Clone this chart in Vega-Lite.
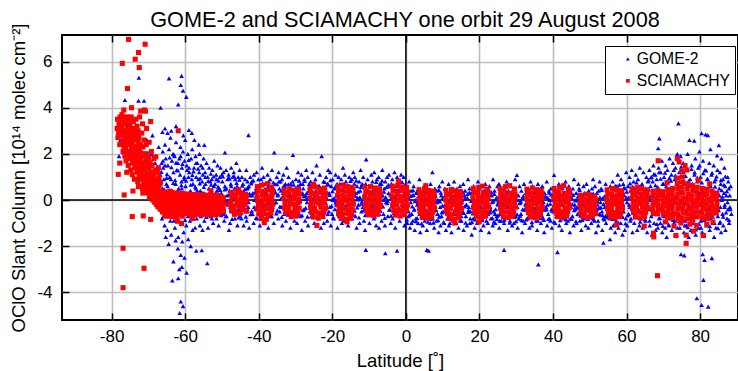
{
"$schema":"https://vega.github.io/schema/vega-lite/v6.json",
"width":676,"height":285,
"autosize":{"type":"none"},
"padding":{"left":62,"top":35,"right":0,"bottom":51},
"title":{"text":"GOME-2 and SCIAMACHY one orbit 29 August 2008","font":"Liberation Sans","fontSize":21.7,"fontWeight":"normal","color":"black","anchor":"middle","baseline":"alphabetic","offset":8,"dx":5,"dy":34},
"config":{
"font":"Liberation Sans",
"view":{"stroke":"black","strokeWidth":2},
"axis":{"labelFontSize":17,"labelColor":"black","labelFont":"Liberation Sans","titleFont":"Liberation Sans","titleFontSize":18.5,"titleFontWeight":"normal","titleColor":"black","gridColor":"#bdbdbd","gridWidth":1.6,"gridOpacity":1,"domain":false,"tickColor":"black","tickWidth":1.5,"tickSize":-7},
"legend":{"orient":"none","legendX":543,"legendY":11,"title":null,"labelFontSize":15.7,"labelFont":"Liberation Sans","labelColor":"black","strokeColor":"black","strokeWidth":1,"fillColor":"white","padding":5,"symbolOffset":10,"labelOffset":1,"rowPadding":5,"symbolSize":14,"symbolStrokeWidth":0}
},
"datasets":{
"g":[
{"x":-78.0,"y":1.9},{"x":-77.6,"y":2.6},{"x":-77.2,"y":3.3},{"x":-76.4,"y":4.33},{"x":-76.0,"y":2.2},{"x":-75.5,"y":3.0},{"x":-74.8,"y":2.5},{"x":-74.2,"y":3.4},{"x":-73.6,"y":1.8},{"x":-73.0,"y":2.9},{"x":-72.7,"y":4.3},{"x":-72.6,"y":5.3},{"x":-71.2,"y":4.3},{"x":-71.8,"y":2.1},{"x":-71.0,"y":1.5},{"x":-70.4,"y":2.6},{"x":-69.8,"y":1.2},{"x":-69.2,"y":2.0},{"x":-68.6,"y":0.9},{"x":-68.2,"y":1.6},{"x":-67.8,"y":0.6},{"x":-67.4,"y":1.3},{"x":-68.9,"y":2.8},{"x":-67.2,"y":2.3},
{"x":-66.7,"y":4.0},{"x":-64.4,"y":5.27},{"x":-61.0,"y":5.38},{"x":-61.2,"y":4.98},{"x":-60.6,"y":4.74},{"x":-59.7,"y":4.47},{"x":-61.9,"y":4.14},{"x":-59.0,"y":3.03},{"x":-60.5,"y":2.8},{"x":-62.5,"y":3.2},{"x":-63.8,"y":3.0},{"x":-58.2,"y":2.9},{"x":-65.5,"y":3.1},{"x":-64.8,"y":2.9},{"x":-57.5,"y":2.6},{"x":-56.3,"y":2.4},{"x":-66.2,"y":2.95},
{"x":-61.2,"y":-4.4},{"x":-61.5,"y":-4.9},{"x":-60.6,"y":-4.6},{"x":-63.5,"y":-3.49},{"x":-61.9,"y":-3.39},{"x":-59.6,"y":-3.15},{"x":-54.0,"y":-2.74},{"x":-63.2,"y":-2.66},{"x":-61.2,"y":-2.38},{"x":-55.5,"y":-2.18},{"x":-62.0,"y":-2.1},{"x":-60.2,"y":-2.5},{"x":-64.5,"y":-1.9},{"x":-58.5,"y":-2.0},{"x":-57.0,"y":-2.2},{"x":-60.9,"y":-2.9},{"x":-61.6,"y":-3.0},{"x":-60.8,"y":-1.8},{"x":-62.6,"y":-1.75},{"x":-59.2,"y":-1.7},{"x":-65.3,"y":-1.6},
{"x":-66.9,"y":0.2},{"x":-66.8,"y":1.1},{"x":-66.6,"y":-0.4},{"x":-66.5,"y":0.8},{"x":-66.4,"y":1.6},{"x":-66.3,"y":-0.8},{"x":-66.2,"y":0.5},{"x":-66.1,"y":2.1},
{"x":-66.0,"y":1.4},{"x":-65.9,"y":-0.2},{"x":-65.8,"y":0.9},{"x":-65.6,"y":-1.1},{"x":-65.5,"y":2.4},{"x":-65.4,"y":0.3},{"x":-65.3,"y":1.8},{"x":-65.2,"y":-0.6},{"x":-65.1,"y":0.7},
{"x":-64.9,"y":-1.3},{"x":-64.8,"y":0.6},{"x":-64.7,"y":1.5},{"x":-64.5,"y":0.1},{"x":-64.4,"y":2.2},{"x":-64.3,"y":-0.7},{"x":-64.2,"y":1.0},{"x":-64.1,"y":-0.1},{"x":-64.0,"y":2.7},
{"x":-63.9,"y":0.9},{"x":-63.8,"y":-1.5},{"x":-63.6,"y":1.7},{"x":-63.5,"y":0.4},{"x":-63.4,"y":-0.5},{"x":-63.3,"y":2.0},{"x":-63.2,"y":1.2},{"x":-63.1,"y":-0.9},{"x":-63.0,"y":0.0},
{"x":-62.9,"y":1.9},{"x":-62.8,"y":-1.2},{"x":-62.6,"y":0.7},{"x":-62.5,"y":2.5},{"x":-62.4,"y":-0.3},{"x":-62.3,"y":1.3},{"x":-62.2,"y":0.2},{"x":-62.1,"y":-0.8},{"x":-62.0,"y":1.6},
{"x":-61.9,"y":-1.6},{"x":-61.8,"y":0.5},{"x":-61.6,"y":1.8},{"x":-61.5,"y":-0.4},{"x":-61.4,"y":1.1},{"x":-61.3,"y":2.3},{"x":-61.2,"y":0.0},{"x":-61.1,"y":-1.0},{"x":-61.0,"y":0.8},
{"x":-60.9,"y":1.4},{"x":-60.8,"y":-0.6},{"x":-60.6,"y":2.1},{"x":-60.5,"y":0.3},{"x":-60.4,"y":-1.4},{"x":-60.3,"y":0.9},{"x":-60.2,"y":1.7},{"x":-60.1,"y":-0.2},{"x":-60.0,"y":2.6},
{"x":-59.9,"y":0.6},{"x":-59.7,"y":-1.1},{"x":-59.6,"y":1.5},{"x":-59.4,"y":0.1},{"x":-59.3,"y":2.0},{"x":-59.2,"y":-0.7},{"x":-59.1,"y":1.0},{"x":-59.0,"y":-0.3},
{"x":-58.9,"y":1.2},{"x":-58.7,"y":-0.9},{"x":-58.6,"y":0.4},{"x":-58.4,"y":1.8},{"x":-58.3,"y":-0.4},{"x":-58.2,"y":0.9},{"x":-58.1,"y":2.2},{"x":-58.0,"y":-1.3},
{"x":-57.9,"y":0.7},{"x":-57.7,"y":-0.5},{"x":-57.6,"y":1.4},{"x":-57.4,"y":0.0},{"x":-57.3,"y":-1.2},{"x":-57.2,"y":1.9},{"x":-57.1,"y":0.5},{"x":-57.0,"y":1.0},
{"x":-56.9,"y":-0.8},{"x":-56.7,"y":1.6},{"x":-56.6,"y":0.2},{"x":-56.4,"y":0.9},{"x":-56.3,"y":-0.3},{"x":-56.2,"y":1.2},{"x":-56.1,"y":2.0},{"x":-56.0,"y":-1.1},
{"x":-55.9,"y":0.4},{"x":-55.7,"y":1.5},{"x":-55.6,"y":-0.6},{"x":-55.4,"y":0.8},{"x":-55.3,"y":-1.3},{"x":-55.2,"y":1.1},{"x":-55.1,"y":0.1},{"x":-55.0,"y":1.8},
{"x":-54.9,"y":0.3},{"x":-54.8,"y":-0.9},{"x":-54.6,"y":1.2},{"x":-54.5,"y":0.7},{"x":-54.4,"y":-0.4},{"x":-54.2,"y":1.6},{"x":-54.1,"y":0.0},{"x":-54.8,"y":2.38},
{"x":-53.9,"y":1.0},{"x":-53.8,"y":-1.2},{"x":-53.6,"y":0.5},{"x":-53.5,"y":1.4},{"x":-53.4,"y":-0.2},{"x":-53.2,"y":0.8},{"x":-53.1,"y":-0.7},
{"x":-52.9,"y":-0.5},{"x":-52.8,"y":0.9},{"x":-52.6,"y":1.3},{"x":-52.5,"y":0.2},{"x":-52.4,"y":-1.0},{"x":-52.2,"y":0.6},{"x":-52.1,"y":1.7},
{"x":-51.9,"y":0.7},{"x":-51.8,"y":-0.3},{"x":-51.6,"y":1.1},{"x":-51.5,"y":-0.8},{"x":-51.4,"y":0.4},{"x":-51.2,"y":1.5},{"x":-51.1,"y":0.0},
{"x":-50.9,"y":-1.1},{"x":-50.8,"y":0.5},{"x":-50.6,"y":1.0},{"x":-50.5,"y":-0.1},{"x":-50.4,"y":1.4},{"x":-50.2,"y":0.3},{"x":-50.1,"y":-0.6},
{"x":-49.9,"y":0.8},{"x":-49.8,"y":-0.4},{"x":-49.6,"y":1.2},{"x":-49.5,"y":0.1},{"x":-49.4,"y":-0.9},{"x":-49.2,"y":0.6},{"x":-49.2,"y":2.06},
{"x":-48.9,"y":1.3},{"x":-48.8,"y":-0.7},{"x":-48.6,"y":0.2},{"x":-48.5,"y":0.9},{"x":-48.4,"y":-0.2},{"x":-48.2,"y":1.1},{"x":-48.1,"y":-1.3},
{"x":-47.9,"y":0.4},{"x":-47.8,"y":-1.0},{"x":-47.6,"y":0.7},{"x":-47.5,"y":1.4},{"x":-47.4,"y":-0.5},{"x":-47.2,"y":0.0},{"x":-47.1,"y":1.0},
{"x":-46.9,"y":-0.3},{"x":-46.8,"y":1.2},{"x":-46.6,"y":0.5},{"x":-46.5,"y":-0.8},{"x":-46.4,"y":0.9},{"x":-46.2,"y":0.2},{"x":-46.1,"y":1.6},
{"x":-45.9,"y":0.6},{"x":-45.8,"y":-1.1},{"x":-45.6,"y":1.0},{"x":-45.5,"y":-0.4},{"x":-45.4,"y":0.3},{"x":-45.2,"y":1.3},{"x":-45.1,"y":-0.7},
{"x":-44.9,"y":0.4},{"x":-44.7,"y":-0.8},{"x":-44.6,"y":1.0},{"x":-44.4,"y":-0.2},{"x":-44.3,"y":0.7},{"x":-44.1,"y":-1.1},
{"x":-43.9,"y":0.1},{"x":-43.7,"y":0.9},{"x":-43.6,"y":-0.5},{"x":-43.4,"y":1.3},{"x":-43.3,"y":-0.9},{"x":-43.1,"y":0.5},
{"x":-42.9,"y":-0.3},{"x":-42.7,"y":0.6},{"x":-42.6,"y":-1.2},{"x":-42.4,"y":0.2},{"x":-42.3,"y":1.0},{"x":-42.8,"y":2.81},
{"x":-41.9,"y":0.8},{"x":-41.7,"y":-0.6},{"x":-41.6,"y":0.3},{"x":-41.4,"y":-1.0},{"x":-41.3,"y":1.1},{"x":-41.1,"y":0.0},
{"x":-40.9,"y":-0.4},{"x":-40.7,"y":0.5},{"x":-40.6,"y":1.2},{"x":-40.4,"y":-0.8},{"x":-40.3,"y":0.2},{"x":-40.1,"y":0.9},
{"x":-39.9,"y":0.6},{"x":-39.7,"y":-1.1},{"x":-39.6,"y":0.0},{"x":-39.4,"y":0.9},{"x":-39.3,"y":-0.5},{"x":-39.1,"y":1.4},
{"x":-38.9,"y":-0.2},{"x":-38.7,"y":1.0},{"x":-38.6,"y":-0.9},{"x":-38.4,"y":0.4},{"x":-38.3,"y":0.7},{"x":-38.1,"y":-0.6},
{"x":-37.9,"y":0.3},{"x":-37.7,"y":-0.4},{"x":-37.6,"y":1.1},{"x":-37.4,"y":-1.2},{"x":-37.3,"y":0.8},{"x":-37.1,"y":0.1},
{"x":-36.9,"y":0.9},{"x":-36.7,"y":-0.7},{"x":-36.6,"y":0.2},{"x":-36.4,"y":1.3},{"x":-36.3,"y":-0.3},{"x":-36.1,"y":0.5},
{"x":-35.9,"y":-1.0},{"x":-35.7,"y":0.4},{"x":-35.6,"y":0.7},{"x":-35.8,"y":2.06},{"x":-35.3,"y":-0.1},{"x":-35.1,"y":1.0},
{"x":-34.9,"y":0.2},{"x":-34.7,"y":-0.8},{"x":-34.6,"y":1.2},{"x":-34.4,"y":0.5},{"x":-34.3,"y":-0.5},{"x":-34.1,"y":0.8},
{"x":-33.9,"y":-0.3},{"x":-33.7,"y":0.9},{"x":-33.6,"y":-1.1},{"x":-33.4,"y":0.3},{"x":-33.3,"y":1.1},{"x":-33.1,"y":-0.6},
{"x":-32.9,"y":0.6},{"x":-32.7,"y":0.0},{"x":-32.6,"y":-0.9},{"x":-32.4,"y":1.4},{"x":-32.3,"y":-0.4},{"x":-32.1,"y":0.4},
{"x":-31.9,"y":1.0},{"x":-31.7,"y":-0.6},{"x":-31.6,"y":0.2},{"x":-31.4,"y":-1.2},{"x":-31.3,"y":0.7},{"x":-31.1,"y":0.1},
{"x":-30.9,"y":-0.5},{"x":-30.8,"y":0.8},{"x":-30.7,"y":1.95},{"x":-30.4,"y":0.3},{"x":-30.3,"y":-0.9},{"x":-30.1,"y":0.5},
{"x":-29.9,"y":0.9},{"x":-29.7,"y":-0.2},{"x":-29.6,"y":-1.0},{"x":-29.4,"y":0.6},{"x":-29.3,"y":1.2},{"x":-29.1,"y":-0.6},
{"x":-28.9,"y":0.0},{"x":-28.7,"y":0.7},{"x":-28.6,"y":-0.7},{"x":-28.4,"y":1.1},{"x":-28.3,"y":-1.3},{"x":-28.1,"y":0.3},
{"x":-27.9,"y":0.5},{"x":-27.7,"y":-0.4},{"x":-27.6,"y":0.9},{"x":-27.4,"y":-0.9},{"x":-27.3,"y":0.2},{"x":-27.1,"y":1.3},
{"x":-26.9,"y":-0.1},{"x":-26.7,"y":1.0},{"x":-26.6,"y":-1.1},{"x":-26.4,"y":0.4},{"x":-26.3,"y":0.7},{"x":-26.1,"y":-0.5},
{"x":-25.9,"y":0.8},{"x":-25.7,"y":-0.7},{"x":-25.6,"y":0.1},{"x":-25.4,"y":1.2},{"x":-25.3,"y":-0.3},{"x":-25.1,"y":0.6},
{"x":-24.9,"y":-1.0},{"x":-24.7,"y":0.3},{"x":-24.6,"y":0.9},{"x":-24.4,"y":-0.5},{"x":-24.3,"y":1.5},{"x":-24.1,"y":0.0},
{"x":-23.9,"y":0.6},{"x":-23.7,"y":-0.8},{"x":-23.6,"y":0.4},{"x":-23.4,"y":1.1},{"x":-23.3,"y":-0.2},{"x":-23.1,"y":-1.2},
{"x":-22.9,"y":1.9},{"x":-22.7,"y":0.2},{"x":-22.6,"y":-0.6},{"x":-22.4,"y":0.8},{"x":-22.3,"y":-1.0},{"x":-22.1,"y":0.5},
{"x":-21.9,"y":-0.4},{"x":-21.7,"y":1.0},{"x":-21.6,"y":0.1},{"x":-21.4,"y":-0.9},{"x":-21.3,"y":0.7},{"x":-21.1,"y":1.3},
{"x":-20.9,"y":0.3},{"x":-20.7,"y":-0.3},{"x":-20.6,"y":1.2},{"x":-20.4,"y":-1.1},{"x":-20.3,"y":0.6},{"x":-20.1,"y":-0.6},
{"x":-19.9,"y":0.9},{"x":-19.7,"y":0.0},{"x":-19.6,"y":-0.8},{"x":-19.4,"y":0.5},{"x":-19.3,"y":-0.4},{"x":-19.1,"y":1.1},
{"x":-18.9,"y":-0.2},{"x":-18.7,"y":0.7},{"x":-18.6,"y":-1.2},{"x":-18.4,"y":0.3},{"x":-18.3,"y":1.0},{"x":-18.1,"y":-0.7},
{"x":-17.9,"y":0.5},{"x":-17.7,"y":-0.5},{"x":-17.6,"y":0.9},{"x":-17.4,"y":-1.0},{"x":-17.3,"y":0.2},{"x":-17.1,"y":1.4},
{"x":-16.9,"y":-0.9},{"x":-16.7,"y":0.4},{"x":-16.6,"y":1.1},{"x":-16.4,"y":-0.3},{"x":-16.3,"y":0.8},{"x":-16.1,"y":0.0},
{"x":-15.9,"y":0.6},{"x":-15.7,"y":-1.1},{"x":-15.6,"y":0.2},{"x":-15.4,"y":1.0},{"x":-15.3,"y":-0.6},{"x":-15.1,"y":0.3},
{"x":-14.9,"y":-0.4},{"x":-14.7,"y":0.9},{"x":-14.6,"y":-0.8},{"x":-14.4,"y":0.5},{"x":-14.3,"y":1.2},{"x":-14.1,"y":-0.1},
{"x":-13.9,"y":1.0},{"x":-13.7,"y":-0.7},{"x":-13.6,"y":0.3},{"x":-13.4,"y":-1.2},{"x":-13.3,"y":0.6},{"x":-13.1,"y":0.1},
{"x":-12.9,"y":-0.2},{"x":-12.7,"y":0.8},{"x":-12.6,"y":-1.0},{"x":-12.4,"y":0.4},{"x":-12.3,"y":1.3},{"x":-12.1,"y":-0.5},
{"x":-11.9,"y":0.7},{"x":-11.7,"y":-0.3},{"x":-11.6,"y":1.0},{"x":-11.4,"y":-0.9},{"x":-11.3,"y":0.2},{"x":-11.1,"y":-1.3},
{"x":-10.8,"y":1.76},{"x":-10.7,"y":0.0},{"x":-10.6,"y":-0.6},{"x":-10.4,"y":0.9},{"x":-10.9,"y":-2.16},{"x":-10.1,"y":0.4},
{"x":-9.9,"y":-1.0},{"x":-9.7,"y":0.6},{"x":-9.6,"y":0.1},{"x":-9.4,"y":1.1},{"x":-9.3,"y":-0.4},{"x":-9.1,"y":0.8},
{"x":-8.9,"y":0.3},{"x":-8.7,"y":-0.8},{"x":-8.6,"y":1.2},{"x":-8.4,"y":-0.2},{"x":-8.3,"y":0.5},{"x":-8.1,"y":-1.1},
{"x":-7.9,"y":0.9},{"x":-7.7,"y":-0.5},{"x":-7.6,"y":0.0},{"x":-7.4,"y":1.0},{"x":-7.3,"y":-1.2},{"x":-7.1,"y":0.4},
{"x":-6.9,"y":-0.3},{"x":-6.7,"y":0.7},{"x":-6.6,"y":-0.9},{"x":-6.4,"y":1.3},{"x":-6.3,"y":0.2},{"x":-6.1,"y":-0.6},
{"x":-5.9,"y":0.5},{"x":-5.7,"y":-1.1},{"x":-5.6,"y":0.8},{"x":-5.4,"y":-0.1},{"x":-5.6,"y":-2.31},{"x":-5.1,"y":1.0},
{"x":-4.9,"y":-0.7},{"x":-4.7,"y":0.3},{"x":-4.6,"y":1.1},{"x":-4.4,"y":-0.4},{"x":-4.3,"y":0.6},{"x":-4.1,"y":-1.0},
{"x":-3.9,"y":0.1},{"x":-3.7,"y":0.9},{"x":-3.6,"y":-0.8},{"x":-3.4,"y":0.4},{"x":-3.3,"y":-0.3},{"x":-3.1,"y":1.2},
{"x":-2.9,"y":-1.2},{"x":-2.7,"y":0.6},{"x":-2.6,"y":0.0},{"x":-2.4,"y":1.0},{"x":-2.3,"y":-0.5},{"x":-2.1,"y":0.3},
{"x":-1.9,"y":0.8},{"x":-1.7,"y":-0.9},{"x":-2.4,"y":-2.2},{"x":-1.4,"y":0.4},{"x":-1.3,"y":1.1},{"x":-1.1,"y":-0.2},
{"x":-0.9,"y":-0.6},{"x":-0.7,"y":0.2},{"x":-0.6,"y":1.0},{"x":-0.4,"y":-1.1},{"x":-0.3,"y":0.5},{"x":-0.1,"y":0.7},
{"x":0.1,"y":-0.3},{"x":0.3,"y":0.5},{"x":0.4,"y":-1.0},{"x":0.6,"y":0.1},{"x":0.7,"y":-0.7},{"x":0.9,"y":0.8},
{"x":1.1,"y":-1.2},{"x":1.3,"y":-0.1},{"x":1.4,"y":0.4},{"x":1.6,"y":-0.6},{"x":1.7,"y":0.2},{"x":1.9,"y":-0.9},
{"x":2.1,"y":0.6},{"x":2.3,"y":-0.4},{"x":2.4,"y":-1.3},{"x":2.6,"y":0.0},{"x":2.7,"y":-0.8},{"x":2.9,"y":0.3},
{"x":3.1,"y":-0.2},{"x":3.3,"y":-1.0},{"x":3.4,"y":0.5},{"x":3.6,"y":-0.5},{"x":3.7,"y":0.9},{"x":3.9,"y":-1.4},
{"x":4.1,"y":0.2},{"x":4.3,"y":-0.7},{"x":4.4,"y":-0.1},{"x":4.6,"y":-1.1},{"x":4.7,"y":0.4},{"x":4.9,"y":-0.3},
{"x":5.1,"y":-0.9},{"x":5.3,"y":0.6},{"x":5.4,"y":-0.4},{"x":5.6,"y":0.1},{"x":5.7,"y":-1.3},{"x":5.7,"y":-2.16},
{"x":6.1,"y":0.3},{"x":6.3,"y":-0.6},{"x":6.2,"y":-2.2},{"x":6.6,"y":-1.0},{"x":6.7,"y":0.7},{"x":6.9,"y":-0.2},
{"x":7.2,"y":1.2},{"x":7.3,"y":-0.8},{"x":7.4,"y":0.2},{"x":7.6,"y":-0.4},{"x":7.7,"y":-1.2},{"x":7.9,"y":0.5},
{"x":8.1,"y":-0.1},{"x":8.3,"y":-0.9},{"x":8.4,"y":0.4},{"x":8.6,"y":-0.6},{"x":8.7,"y":0.0},{"x":8.9,"y":-1.4},
{"x":9.1,"y":0.6},{"x":9.3,"y":-0.3},{"x":9.4,"y":-1.1},{"x":9.6,"y":0.2},{"x":9.7,"y":-0.7},{"x":9.9,"y":0.8},
{"x":10.1,"y":-0.5},{"x":10.3,"y":0.1},{"x":10.4,"y":-1.0},{"x":10.6,"y":0.5},{"x":10.7,"y":-0.2},{"x":10.9,"y":-1.3},
{"x":11.1,"y":0.3},{"x":11.3,"y":-0.8},{"x":11.4,"y":-0.3},{"x":11.6,"y":0.7},{"x":11.7,"y":-1.1},{"x":11.9,"y":0.0},
{"x":12.1,"y":-0.6},{"x":12.3,"y":0.4},{"x":12.4,"y":-1.4},{"x":12.6,"y":-0.1},{"x":12.7,"y":0.2},{"x":12.9,"y":-0.9},
{"x":13.1,"y":0.8},{"x":13.3,"y":-0.4},{"x":13.4,"y":0.1},{"x":13.6,"y":-1.0},{"x":13.7,"y":-0.6},{"x":13.9,"y":0.5},
{"x":14.1,"y":-0.2},{"x":14.3,"y":-1.2},{"x":14.4,"y":0.3},{"x":14.6,"y":-0.7},{"x":14.7,"y":0.6},{"x":14.9,"y":-0.1},
{"x":15.1,"y":-0.9},{"x":15.3,"y":0.0},{"x":15.4,"y":-0.5},{"x":15.6,"y":0.7},{"x":15.7,"y":-1.3},{"x":15.9,"y":0.2},
{"x":16.1,"y":0.4},{"x":16.3,"y":-0.7},{"x":16.4,"y":-0.2},{"x":16.6,"y":-1.1},{"x":16.7,"y":0.1},{"x":16.9,"y":0.9},
{"x":17.1,"y":-0.3},{"x":17.3,"y":0.5},{"x":17.4,"y":-1.0},{"x":17.6,"y":-0.5},{"x":17.7,"y":0.3},{"x":17.9,"y":-1.5},
{"x":18.1,"y":0.1},{"x":18.3,"y":-0.8},{"x":18.4,"y":0.6},{"x":18.6,"y":-0.2},{"x":18.7,"y":-1.2},{"x":18.9,"y":-0.4},
{"x":19.1,"y":-0.6},{"x":19.3,"y":0.3},{"x":19.4,"y":-1.0},{"x":19.6,"y":0.8},{"x":19.7,"y":-0.1},{"x":19.9,"y":-0.7},
{"x":20.1,"y":0.5},{"x":20.3,"y":-0.3},{"x":20.4,"y":-1.3},{"x":20.6,"y":0.0},{"x":20.7,"y":-0.8},{"x":20.9,"y":0.2},
{"x":21.1,"y":-1.1},{"x":21.3,"y":0.4},{"x":21.4,"y":-0.5},{"x":21.6,"y":0.7},{"x":21.7,"y":-0.2},{"x":21.9,"y":-0.9},
{"x":22.1,"y":0.0},{"x":22.3,"y":-0.6},{"x":22.4,"y":0.3},{"x":22.6,"y":-1.4},{"x":22.7,"y":0.6},{"x":22.9,"y":-0.3},
{"x":23.1,"y":-0.8},{"x":23.3,"y":0.2},{"x":23.4,"y":-0.1},{"x":23.6,"y":-1.1},{"x":23.7,"y":0.9},{"x":23.9,"y":-0.5},
{"x":24.1,"y":0.4},{"x":24.3,"y":-1.0},{"x":24.4,"y":-0.4},{"x":24.6,"y":0.1},{"x":24.7,"y":-0.7},{"x":24.9,"y":0.6},
{"x":25.1,"y":-0.2},{"x":25.3,"y":0.7},{"x":25.4,"y":-1.2},{"x":25.6,"y":-0.6},{"x":25.7,"y":0.3},{"x":25.9,"y":-0.9},
{"x":26.1,"y":0.2},{"x":26.3,"y":-0.5},{"x":26.7,"y":-2.16},{"x":26.6,"y":0.5},{"x":26.7,"y":-1.0},{"x":26.9,"y":-0.1},
{"x":27.1,"y":-0.7},{"x":27.3,"y":0.1},{"x":27.4,"y":0.8},{"x":27.6,"y":-0.3},{"x":27.7,"y":-1.3},{"x":27.9,"y":0.4},
{"x":28.1,"y":0.6},{"x":28.3,"y":-0.9},{"x":28.4,"y":-0.2},{"x":28.6,"y":0.3},{"x":28.7,"y":-0.6},{"x":28.9,"y":-1.1},
{"x":29.1,"y":-0.4},{"x":29.3,"y":0.5},{"x":29.4,"y":-1.0},{"x":29.6,"y":0.0},{"x":29.7,"y":0.9},{"x":29.9,"y":-0.7},
{"x":30.2,"y":1.08},{"x":30.3,"y":-0.3},{"x":30.4,"y":-1.2},{"x":30.6,"y":0.2},{"x":30.7,"y":-0.8},{"x":30.9,"y":0.6},
{"x":31.1,"y":-0.1},{"x":31.3,"y":-0.6},{"x":31.4,"y":0.4},{"x":31.6,"y":-1.4},{"x":31.7,"y":0.1},{"x":31.9,"y":-0.9},
{"x":32.1,"y":0.7},{"x":32.3,"y":-0.4},{"x":32.4,"y":-1.0},{"x":32.6,"y":0.3},{"x":32.7,"y":-0.2},{"x":32.9,"y":0.0},
{"x":33.1,"y":-0.8},{"x":33.3,"y":0.5},{"x":33.4,"y":-0.5},{"x":33.6,"y":-1.2},{"x":33.7,"y":0.2},{"x":33.9,"y":0.8},
{"x":34.1,"y":0.1},{"x":34.3,"y":-1.1},{"x":34.4,"y":0.6},{"x":34.6,"y":-0.3},{"x":34.7,"y":-0.7},{"x":34.9,"y":0.3},
{"x":35.1,"y":-0.5},{"x":35.3,"y":0.4},{"x":35.4,"y":-0.9},{"x":35.6,"y":0.0},{"x":35.7,"y":-1.3},{"x":35.9,"y":0.7},
{"x":36.0,"y":-2.79},{"x":36.3,"y":0.2},{"x":36.4,"y":-0.6},{"x":36.6,"y":0.5},{"x":36.7,"y":-1.0},{"x":36.9,"y":-0.2},
{"x":37.1,"y":0.6},{"x":37.3,"y":-0.8},{"x":37.4,"y":-0.1},{"x":37.6,"y":-1.4},{"x":37.7,"y":0.3},{"x":37.9,"y":-0.4},
{"x":38.1,"y":-0.3},{"x":38.3,"y":0.8},{"x":38.4,"y":-1.1},{"x":38.6,"y":0.1},{"x":38.7,"y":-0.6},{"x":38.9,"y":0.4},
{"x":39.1,"y":0.0},{"x":39.3,"y":-0.9},{"x":39.4,"y":0.5},{"x":39.6,"y":-0.4},{"x":39.7,"y":-1.2},{"x":39.9,"y":0.2},
{"x":40.3,"y":1.08},{"x":40.2,"y":-0.5},{"x":40.4,"y":0.3},{"x":40.6,"y":-1.0},{"x":40.7,"y":-0.1},{"x":40.9,"y":-0.7},
{"x":41.1,"y":0.4},{"x":41.2,"y":-2.26},{"x":41.4,"y":-0.3},{"x":41.6,"y":0.7},{"x":41.7,"y":-1.1},{"x":41.9,"y":0.0},
{"x":42.1,"y":-0.6},{"x":42.3,"y":0.2},{"x":42.4,"y":-1.3},{"x":42.6,"y":0.5},{"x":42.7,"y":-0.2},{"x":42.9,"y":-0.8},
{"x":43.1,"y":0.3},{"x":43.3,"y":-0.4},{"x":43.4,"y":0.8},{"x":43.6,"y":-1.0},{"x":43.7,"y":0.1},{"x":43.9,"y":-0.6},
{"x":44.1,"y":-0.9},{"x":44.3,"y":0.6},{"x":44.4,"y":-0.1},{"x":44.6,"y":-1.4},{"x":44.7,"y":0.4},{"x":44.9,"y":-0.3},
{"x":45.1,"y":0.1},{"x":45.3,"y":-0.7},{"x":45.4,"y":0.5},{"x":45.6,"y":-1.1},{"x":45.7,"y":0.9},{"x":45.9,"y":-0.2},
{"x":46.1,"y":-0.4},{"x":46.3,"y":0.3},{"x":46.4,"y":-1.0},{"x":46.6,"y":0.0},{"x":46.7,"y":-0.6},{"x":46.9,"y":0.7},
{"x":47.1,"y":0.5},{"x":47.3,"y":-0.9},{"x":47.4,"y":-0.3},{"x":47.6,"y":0.2},{"x":47.7,"y":-1.3},{"x":47.9,"y":-0.1},
{"x":48.1,"y":-0.2},{"x":48.3,"y":0.6},{"x":48.4,"y":-0.8},{"x":48.6,"y":0.3},{"x":48.7,"y":-0.5},{"x":48.9,"y":-1.1},
{"x":49.1,"y":0.7},{"x":49.3,"y":-0.4},{"x":49.4,"y":0.0},{"x":49.6,"y":-1.2},{"x":49.7,"y":0.4},{"x":49.9,"y":-0.7},
{"x":50.1,"y":-0.6},{"x":50.3,"y":0.2},{"x":50.4,"y":-1.0},{"x":50.6,"y":0.5},{"x":50.7,"y":-0.3},{"x":50.9,"y":0.9},
{"x":51.1,"y":0.1},{"x":51.3,"y":-0.9},{"x":51.4,"y":0.6},{"x":51.6,"y":-0.4},{"x":51.7,"y":-1.4},{"x":51.9,"y":0.3},
{"x":52.1,"y":-0.2},{"x":52.3,"y":-1.1},{"x":52.4,"y":0.4},{"x":52.6,"y":-0.6},{"x":52.7,"y":0.8},{"x":52.9,"y":-0.1},
{"x":53.1,"y":0.5},{"x":53.3,"y":-0.5},{"x":53.4,"y":-1.3},{"x":53.6,"y":0.1},{"x":53.7,"y":-0.8},{"x":53.7,"y":-1.85},
{"x":54.1,"y":-0.3},{"x":54.3,"y":0.7},{"x":54.4,"y":-1.0},{"x":54.6,"y":0.2},{"x":54.7,"y":-0.6},{"x":54.9,"y":0.4},
{"x":55.5,"y":-1.7},{"x":55.3,"y":0.0},{"x":55.4,"y":-0.7},{"x":55.6,"y":0.6},{"x":55.7,"y":-1.2},{"x":55.9,"y":0.3},
{"x":56.1,"y":-0.4},{"x":56.2,"y":0.8},{"x":56.4,"y":-1.1},{"x":56.5,"y":0.2},{"x":56.6,"y":-0.7},{"x":56.8,"y":0.5},{"x":56.9,"y":-1.4},
{"x":57.1,"y":0.1},{"x":57.2,"y":-0.9},{"x":57.4,"y":0.6},{"x":57.5,"y":-0.3},{"x":57.6,"y":1.1},{"x":57.8,"y":-1.2},{"x":57.9,"y":0.3},
{"x":58.1,"y":-0.6},{"x":58.2,"y":0.4},{"x":58.4,"y":-1.0},{"x":58.5,"y":0.9},{"x":58.6,"y":-0.2},{"x":58.8,"y":0.0},{"x":58.9,"y":-1.5},
{"x":59.1,"y":0.7},{"x":59.2,"y":-0.5},{"x":59.4,"y":0.2},{"x":59.5,"y":-1.3},{"x":59.6,"y":0.5},{"x":59.8,"y":-0.8},{"x":59.9,"y":1.2},
{"x":60.1,"y":-0.1},{"x":60.2,"y":-1.1},{"x":60.4,"y":0.6},{"x":60.5,"y":0.1},{"x":60.6,"y":-0.6},{"x":60.8,"y":1.0},{"x":60.9,"y":-0.3},
{"x":61.1,"y":0.4},{"x":61.2,"y":-0.8},{"x":61.4,"y":1.3},{"x":61.5,"y":-0.4},{"x":61.6,"y":-1.4},{"x":61.8,"y":0.2},{"x":61.9,"y":0.8},
{"x":62.1,"y":-1.0},{"x":62.2,"y":0.5},{"x":62.4,"y":-0.2},{"x":62.5,"y":1.1},{"x":62.6,"y":-0.7},{"x":62.8,"y":0.0},{"x":62.9,"y":-1.3},
{"x":63.1,"y":0.9},{"x":63.2,"y":-0.5},{"x":63.4,"y":0.3},{"x":63.5,"y":-1.1},{"x":63.6,"y":1.4},{"x":63.8,"y":-0.1},{"x":63.9,"y":-0.8},
{"x":64.1,"y":-0.3},{"x":64.2,"y":0.7},{"x":64.4,"y":-1.2},{"x":64.5,"y":0.1},{"x":64.6,"y":1.2},{"x":64.8,"y":-0.6},{"x":64.9,"y":0.4},
{"x":65.1,"y":0.5},{"x":65.2,"y":-0.9},{"x":65.4,"y":1.0},{"x":65.5,"y":-0.2},{"x":65.6,"y":-1.4},{"x":65.8,"y":0.8},{"x":65.9,"y":0.2},
{"x":66.1,"y":-0.4},{"x":66.2,"y":1.3},{"x":66.3,"y":-1.1},{"x":66.5,"y":0.6},{"x":66.6,"y":0.0},{"x":66.7,"y":-0.7},{"x":66.8,"y":1.0},{"x":66.9,"y":-1.5},
{"x":67.1,"y":0.8},{"x":67.2,"y":-0.2},{"x":67.3,"y":1.5},{"x":67.5,"y":-1.0},{"x":67.6,"y":0.3},{"x":67.7,"y":-0.6},{"x":67.8,"y":1.1},{"x":67.9,"y":-1.3},
{"x":68.1,"y":-0.5},{"x":68.2,"y":0.9},{"x":68.6,"y":2.24},{"x":68.5,"y":-1.2},{"x":68.3,"y":0.2},{"x":68.7,"y":1.4},{"x":68.8,"y":-0.8},{"x":68.9,"y":2.67},
{"x":69.1,"y":0.4},{"x":69.2,"y":-1.0},{"x":69.3,"y":1.2},{"x":69.5,"y":-0.3},{"x":69.6,"y":1.7},{"x":69.7,"y":-1.4},{"x":69.8,"y":0.7},{"x":69.9,"y":0.0},
{"x":70.1,"y":-0.7},{"x":70.2,"y":1.0},{"x":70.3,"y":0.2},{"x":70.5,"y":-1.2},{"x":70.6,"y":1.5},{"x":70.7,"y":-0.1},{"x":70.8,"y":0.6},{"x":70.9,"y":-1.6},
{"x":71.1,"y":1.3},{"x":71.2,"y":-0.4},{"x":71.3,"y":0.8},{"x":71.5,"y":-1.1},{"x":71.6,"y":0.1},{"x":71.7,"y":1.8},{"x":71.8,"y":-0.8},{"x":71.9,"y":0.4},
{"x":72.1,"y":-0.2},{"x":72.2,"y":1.1},{"x":72.3,"y":-1.3},{"x":72.5,"y":0.5},{"x":72.6,"y":1.6},{"x":72.7,"y":-0.6},{"x":72.8,"y":0.0},{"x":72.9,"y":-1.0},
{"x":73.1,"y":0.9},{"x":73.2,"y":-0.9},{"x":73.3,"y":1.4},{"x":73.5,"y":0.2},{"x":73.6,"y":-1.5},{"x":73.7,"y":0.7},{"x":73.8,"y":1.99},{"x":73.9,"y":-0.3},
{"x":74.1,"y":3.32},{"x":74.2,"y":-0.6},{"x":74.3,"y":1.2},{"x":74.5,"y":-1.2},{"x":74.6,"y":0.4},{"x":74.7,"y":1.9},{"x":74.8,"y":-2.35},{"x":74.9,"y":0.0},
{"x":75.1,"y":1.0},{"x":75.2,"y":-0.4},{"x":75.7,"y":-2.4},{"x":75.5,"y":0.7},{"x":75.6,"y":-1.4},{"x":75.4,"y":1.6},{"x":75.8,"y":0.1},{"x":75.9,"y":-0.9},
{"x":76.1,"y":-0.1},{"x":76.2,"y":1.3},{"x":76.3,"y":-1.1},{"x":76.5,"y":0.6},{"x":76.6,"y":2.0},{"x":76.7,"y":-0.6},{"x":76.8,"y":0.3},{"x":76.9,"y":-1.6},
{"x":77.1,"y":2.6},{"x":77.2,"y":-0.8},{"x":77.3,"y":0.9},{"x":77.5,"y":-1.3},{"x":77.6,"y":0.2},{"x":77.7,"y":1.5},{"x":77.8,"y":-0.3},{"x":77.9,"y":0.7},
{"x":78.4,"y":2.57},{"x":78.2,"y":-1.0},{"x":78.3,"y":0.4},{"x":78.5,"y":1.2},{"x":78.6,"y":-0.5},{"x":78.7,"y":1.8},{"x":78.8,"y":-1.5},{"x":78.9,"y":0.0},
{"x":79.1,"y":-4.26},{"x":79.2,"y":0.8},{"x":79.3,"y":-0.7},{"x":79.5,"y":1.4},{"x":79.6,"y":-1.2},{"x":79.7,"y":0.3},{"x":79.8,"y":2.1},{"x":79.9,"y":-0.2},
{"x":80.4,"y":2.89},{"x":80.4,"y":-4.55},{"x":80.7,"y":-2.35},{"x":80.1,"y":1.0},{"x":80.2,"y":-0.9},{"x":80.5,"y":0.5},{"x":80.6,"y":-1.4},{"x":80.8,"y":1.7},
{"x":81.5,"y":2.84},{"x":81.2,"y":-2.6},{"x":80.9,"y":-3.46},{"x":81.1,"y":0.2},{"x":81.3,"y":1.3},{"x":81.6,"y":-0.6},{"x":81.7,"y":-1.1},{"x":81.9,"y":0.9},
{"x":82.1,"y":2.81},{"x":82.2,"y":-4.62},{"x":82.3,"y":-0.4},{"x":82.5,"y":1.6},{"x":82.6,"y":-1.3},{"x":82.7,"y":0.6},{"x":82.8,"y":2.2},{"x":82.9,"y":-0.8},
{"x":83.2,"y":-2.52},{"x":83.1,"y":1.1},{"x":83.3,"y":-0.2},{"x":83.5,"y":-1.0},{"x":83.6,"y":0.4},{"x":83.7,"y":1.5},{"x":83.8,"y":-1.6},{"x":83.9,"y":0.8},
{"x":84.6,"y":1.93},{"x":84.1,"y":-0.5},{"x":84.2,"y":0.9},{"x":84.3,"y":-1.2},{"x":84.5,"y":0.1},{"x":84.7,"y":1.3},{"x":84.8,"y":-0.7},{"x":85.1,"y":2.37},
{"x":85.2,"y":0.5},{"x":85.3,"y":-1.0},{"x":85.4,"y":1.2},{"x":85.5,"y":-0.3},{"x":85.6,"y":0.7},{"x":85.7,"y":-1.4},{"x":85.8,"y":1.8},{"x":85.9,"y":0.0},
{"x":86.1,"y":-0.6},{"x":86.2,"y":0.9},{"x":86.3,"y":-1.1},{"x":86.5,"y":0.3},{"x":86.6,"y":1.4},{"x":86.7,"y":-0.2},{"x":86.8,"y":0.6},{"x":86.9,"y":-1.3},
{"x":87.1,"y":0.2},{"x":87.3,"y":-0.8},{"x":87.5,"y":1.0},{"x":87.6,"y":-0.4},{"x":87.8,"y":0.5},{"x":87.9,"y":-1.0},
{"x":88.1,"y":-0.3},{"x":88.3,"y":0.6},{"x":88.5,"y":-0.6},
{"x":-66.95,"y":0.62},{"x":-66.75,"y":-0.3},{"x":-66.5,"y":1.22},{"x":-66.25,"y":0.14},{"x":-66.05,"y":1.7},
{"x":-65.95,"y":-0.7},{"x":-65.75,"y":0.46},{"x":-65.5,"y":1.5},{"x":-65.25,"y":-0.12},{"x":-65.05,"y":0.96},
{"x":-64.95,"y":1.12},{"x":-64.75,"y":-0.44},{"x":-64.5,"y":0.3},{"x":-64.25,"y":1.84},{"x":-64.05,"y":-0.9},
{"x":-63.95,"y":0.2},{"x":-63.75,"y":1.42},{"x":-63.5,"y":-0.62},{"x":-63.25,"y":0.74},{"x":-63.05,"y":1.96},
{"x":-62.95,"y":-0.2},{"x":-62.75,"y":0.86},{"x":-62.5,"y":1.62},{"x":-62.25,"y":-0.84},{"x":-62.05,"y":0.4},
{"x":-61.95,"y":1.28},{"x":-61.75,"y":0.02},{"x":-61.5,"y":-0.56},{"x":-61.25,"y":1.9},{"x":-61.05,"y":0.64},
{"x":-60.95,"y":0.5},{"x":-60.75,"y":1.56},{"x":-60.5,"y":-0.36},{"x":-60.25,"y":1.0},{"x":-60.05,"y":-0.86},
{"x":-59.95,"y":-0.5},{"x":-59.75,"y":0.84},{"x":-59.5,"y":1.3},{"x":-59.25,"y":0.16},{"x":-59.05,"y":1.74},
{"x":-58.95,"y":1.4},{"x":-58.75,"y":-0.16},{"x":-58.5,"y":0.66},{"x":-58.25,"y":-0.78},{"x":-58.05,"y":1.08},
{"x":-57.95,"y":0.26},{"x":-57.75,"y":1.24},{"x":-57.5,"y":-0.66},{"x":-57.25,"y":0.58},{"x":-57.05,"y":1.6},
{"x":-56.95,"y":-0.46},{"x":-56.75,"y":0.4},{"x":-56.5,"y":1.36},{"x":-56.25,"y":-0.04},{"x":-56.05,"y":0.72},
{"x":-55.95,"y":0.94},{"x":-55.75,"y":-0.7},{"x":-55.5,"y":0.32},{"x":-55.25,"y":1.4},{"x":-55.05,"y":-0.18},
{"x":-54.95,"y":0.56},{"x":-54.75,"y":-0.36},{"x":-54.5,"y":1.0},{"x":-54.25,"y":-0.74},{"x":-54.05,"y":0.22},
{"x":-53.95,"y":-0.12},{"x":-53.75,"y":0.82},{"x":-53.5,"y":-0.52},{"x":-53.25,"y":0.34},{"x":-53.05,"y":1.14},
{"x":-52.95,"y":0.66},{"x":-52.75,"y":-0.8},{"x":-52.5,"y":0.14},{"x":-52.25,"y":1.02},{"x":-52.05,"y":-0.28},
{"x":-51.95,"y":-0.46},{"x":-51.75,"y":0.28},{"x":-51.5,"y":0.9},{"x":-51.25,"y":-0.04},{"x":-51.05,"y":0.58},
{"x":-50.95,"y":0.84},{"x":-50.75,"y":-0.22},{"x":-50.5,"y":0.44},{"x":-50.25,"y":-0.66},{"x":-50.05,"y":1.1},
{"x":-49.95,"y":0.06},{"x":-49.75,"y":1.02},{"x":-49.5,"y":-0.6},{"x":-49.25,"y":0.46},{"x":-49.05,"y":-0.14},
{"x":-48.95,"y":-0.7},{"x":-48.75,"y":0.5},{"x":-48.5,"y":-0.04},{"x":-48.25,"y":0.96},{"x":-48.05,"y":0.24},
{"x":-47.95,"y":0.92},{"x":-47.75,"y":-0.3},{"x":-47.5,"y":0.6},{"x":-47.25,"y":-0.82},{"x":-47.05,"y":0.16},
{"x":-46.95,"y":0.3},{"x":-46.75,"y":1.04},{"x":-46.5,"y":-0.56},{"x":-46.25,"y":0.06},{"x":-46.05,"y":0.74},
{"x":-45.95,"y":-0.2},{"x":-45.75,"y":0.52},{"x":-45.5,"y":-0.76},{"x":-45.25,"y":0.88},{"x":-45.05,"y":0.1},
{"x":-44.95,"y":0.15},{"x":-44.75,"y":-0.55},{"x":-44.5,"y":0.62},{"x":-44.25,"y":-0.2},{"x":-44.05,"y":0.38},
{"x":-43.95,"y":-0.35},{"x":-43.75,"y":0.48},{"x":-43.5,"y":-0.72},{"x":-43.25,"y":0.05},{"x":-43.05,"y":0.8},
{"x":-42.95,"y":0.55},{"x":-42.75,"y":-0.1},{"x":-42.5,"y":0.28},{"x":-42.25,"y":-0.62},{"x":-42.05,"y":0.72},
{"x":-41.95,"y":-0.48},{"x":-41.75,"y":0.2},{"x":-41.5,"y":0.85},{"x":-41.25,"y":-0.3},{"x":-41.05,"y":0.0},
{"x":-40.95,"y":0.35},{"x":-40.75,"y":-0.78},{"x":-40.5,"y":0.1},{"x":-40.25,"y":0.58},{"x":-40.05,"y":-0.15},
{"x":-39.95,"y":-0.05},{"x":-39.75,"y":0.66},{"x":-39.5,"y":-0.42},{"x":-39.25,"y":0.25},{"x":-39.05,"y":-0.68},
{"x":-38.95,"y":0.72},{"x":-38.75,"y":-0.25},{"x":-38.5,"y":0.44},{"x":-38.25,"y":-0.55},{"x":-38.05,"y":0.12},
{"x":-37.95,"y":0.18},{"x":-37.75,"y":-0.6},{"x":-37.5,"y":0.58},{"x":-37.25,"y":-0.15},{"x":-37.05,"y":0.42},
{"x":-36.95,"y":-0.3},{"x":-36.75,"y":0.52},{"x":-36.5,"y":-0.7},{"x":-36.25,"y":0.08},{"x":-36.05,"y":0.76},
{"x":-35.95,"y":0.5},{"x":-35.75,"y":-0.12},{"x":-35.5,"y":0.32},{"x":-35.25,"y":-0.58},{"x":-35.05,"y":0.68},
{"x":-34.95,"y":-0.45},{"x":-34.75,"y":0.24},{"x":-34.5,"y":0.8},{"x":-34.25,"y":-0.28},{"x":-34.05,"y":0.04},
{"x":-33.95,"y":0.4},{"x":-33.75,"y":-0.74},{"x":-33.5,"y":0.14},{"x":-33.25,"y":0.6},{"x":-33.05,"y":-0.1},
{"x":-32.95,"y":-0.02},{"x":-32.75,"y":0.7},{"x":-32.5,"y":-0.38},{"x":-32.25,"y":0.22},{"x":-32.05,"y":-0.64},
{"x":-31.95,"y":0.68},{"x":-31.75,"y":-0.22},{"x":-31.5,"y":0.48},{"x":-31.25,"y":-0.5},{"x":-31.05,"y":0.16},
{"x":-30.95,"y":0.12},{"x":-30.75,"y":-0.52},{"x":-30.5,"y":0.66},{"x":-30.25,"y":-0.24},{"x":-30.05,"y":0.34},
{"x":-29.95,"y":-0.38},{"x":-29.75,"y":0.44},{"x":-29.5,"y":-0.68},{"x":-29.25,"y":0.02},{"x":-29.05,"y":0.84},
{"x":-28.95,"y":0.58},{"x":-28.75,"y":-0.06},{"x":-28.5,"y":0.26},{"x":-28.25,"y":-0.66},{"x":-28.05,"y":0.7},
{"x":-27.95,"y":-0.44},{"x":-27.75,"y":0.16},{"x":-27.5,"y":0.82},{"x":-27.25,"y":-0.34},{"x":-27.05,"y":0.06},
{"x":-26.95,"y":0.3},{"x":-26.75,"y":-0.72},{"x":-26.5,"y":0.12},{"x":-26.25,"y":0.54},{"x":-26.05,"y":-0.18},
{"x":-25.95,"y":-0.08},{"x":-25.75,"y":0.62},{"x":-25.5,"y":-0.46},{"x":-25.25,"y":0.28},{"x":-25.05,"y":-0.7},
{"x":-24.95,"y":0.74},{"x":-24.75,"y":-0.28},{"x":-24.5,"y":0.4},{"x":-24.25,"y":-0.52},{"x":-24.05,"y":0.14},
{"x":-23.95,"y":0.2},{"x":-23.75,"y":-0.58},{"x":-23.5,"y":0.6},{"x":-23.25,"y":-0.18},{"x":-23.05,"y":0.36},
{"x":-22.95,"y":-0.32},{"x":-22.75,"y":0.5},{"x":-22.5,"y":-0.74},{"x":-22.25,"y":0.1},{"x":-22.05,"y":0.78},
{"x":-21.95,"y":0.52},{"x":-21.75,"y":-0.14},{"x":-21.5,"y":0.3},{"x":-21.25,"y":-0.6},{"x":-21.05,"y":0.66},
{"x":-20.95,"y":-0.5},{"x":-20.75,"y":0.22},{"x":-20.5,"y":0.86},{"x":-20.25,"y":-0.26},{"x":-20.05,"y":0.02},
{"x":-19.95,"y":0.38},{"x":-19.75,"y":-0.76},{"x":-19.5,"y":0.08},{"x":-19.25,"y":0.56},{"x":-19.05,"y":-0.12},
{"x":-18.95,"y":-0.04},{"x":-18.75,"y":0.64},{"x":-18.5,"y":-0.4},{"x":-18.25,"y":0.26},{"x":-18.05,"y":-0.66},
{"x":-17.95,"y":0.7},{"x":-17.75,"y":-0.2},{"x":-17.5,"y":0.46},{"x":-17.25,"y":-0.54},{"x":-17.05,"y":0.1},
{"x":-16.95,"y":0.14},{"x":-16.75,"y":-0.56},{"x":-16.5,"y":0.6},{"x":-16.25,"y":-0.22},{"x":-16.05,"y":0.4},
{"x":-15.95,"y":-0.36},{"x":-15.75,"y":0.46},{"x":-15.5,"y":-0.7},{"x":-15.25,"y":0.06},{"x":-15.05,"y":0.82},
{"x":-14.95,"y":0.54},{"x":-14.75,"y":-0.08},{"x":-14.5,"y":0.3},{"x":-14.25,"y":-0.64},{"x":-14.05,"y":0.7},
{"x":-13.95,"y":-0.46},{"x":-13.75,"y":0.18},{"x":-13.5,"y":0.84},{"x":-13.25,"y":-0.32},{"x":-13.05,"y":0.02},
{"x":-12.95,"y":0.36},{"x":-12.75,"y":-0.76},{"x":-12.5,"y":0.12},{"x":-12.25,"y":0.56},{"x":-12.05,"y":-0.16},
{"x":-11.95,"y":-0.06},{"x":-11.75,"y":0.64},{"x":-11.5,"y":-0.44},{"x":-11.25,"y":0.24},{"x":-11.05,"y":-0.66},
{"x":-10.95,"y":0.7},{"x":-10.75,"y":-0.26},{"x":-10.5,"y":0.42},{"x":-10.25,"y":-0.56},{"x":-10.05,"y":0.14},
{"x":-9.95,"y":0.16},{"x":-9.75,"y":-0.54},{"x":-9.5,"y":0.6},{"x":-9.25,"y":-0.2},{"x":-9.05,"y":0.36},
{"x":-8.95,"y":-0.34},{"x":-8.75,"y":0.5},{"x":-8.5,"y":-0.72},{"x":-8.25,"y":0.04},{"x":-8.05,"y":0.78},
{"x":-7.95,"y":0.52},{"x":-7.75,"y":-0.12},{"x":-7.5,"y":0.3},{"x":-7.25,"y":-0.6},{"x":-7.05,"y":0.7},
{"x":-6.95,"y":-0.46},{"x":-6.75,"y":0.2},{"x":-6.5,"y":0.84},{"x":-6.25,"y":-0.28},{"x":-6.05,"y":0.0},
{"x":-5.95,"y":0.36},{"x":-5.75,"y":-0.78},{"x":-5.5,"y":0.12},{"x":-5.25,"y":0.56},{"x":-5.05,"y":-0.14},
{"x":-4.95,"y":-0.04},{"x":-4.75,"y":0.66},{"x":-4.5,"y":-0.42},{"x":-4.25,"y":0.24},{"x":-4.05,"y":-0.68},
{"x":-3.95,"y":0.7},{"x":-3.75,"y":-0.24},{"x":-3.5,"y":0.44},{"x":-3.25,"y":-0.56},{"x":-3.05,"y":0.12},
{"x":-2.95,"y":0.16},{"x":-2.75,"y":-0.58},{"x":-2.5,"y":0.6},{"x":-2.25,"y":-0.18},{"x":-2.05,"y":0.4},
{"x":-1.95,"y":-0.34},{"x":-1.75,"y":0.48},{"x":-1.5,"y":-0.7},{"x":-1.25,"y":0.06},{"x":-1.05,"y":0.78},
{"x":-0.95,"y":0.5},{"x":-0.75,"y":-0.14},{"x":-0.5,"y":0.26},{"x":-0.25,"y":-0.62},{"x":-0.05,"y":0.68},
{"x":0.05,"y":-0.2},{"x":0.25,"y":-0.85},{"x":0.5,"y":0.3},{"x":0.75,"y":-0.5},{"x":0.95,"y":0.05},
{"x":1.05,"y":-0.65},{"x":1.25,"y":0.18},{"x":1.5,"y":-1.0},{"x":1.75,"y":-0.28},{"x":1.95,"y":0.42},
{"x":2.05,"y":0.22},{"x":2.25,"y":-0.42},{"x":2.5,"y":-0.05},{"x":2.75,"y":-0.92},{"x":2.95,"y":0.36},
{"x":3.05,"y":-0.78},{"x":3.25,"y":-0.12},{"x":3.5,"y":0.48},{"x":3.75,"y":-0.6},{"x":3.95,"y":-0.3},
{"x":4.05,"y":0.06},{"x":4.25,"y":-1.02},{"x":4.5,"y":-0.2},{"x":4.75,"y":0.28},{"x":4.95,"y":-0.46},
{"x":5.05,"y":-0.36},{"x":5.25,"y":0.34},{"x":5.5,"y":-0.7},{"x":5.75,"y":-0.02},{"x":5.95,"y":-0.94},
{"x":6.05,"y":0.4},{"x":6.25,"y":-0.52},{"x":6.5,"y":0.12},{"x":6.75,"y":-0.82},{"x":6.95,"y":-0.16},
{"x":7.05,"y":-0.6},{"x":7.25,"y":0.02},{"x":7.5,"y":-0.98},{"x":7.75,"y":-0.3},{"x":7.95,"y":0.26},
{"x":8.05,"y":0.16},{"x":8.25,"y":-0.44},{"x":8.5,"y":-0.1},{"x":8.75,"y":-0.88},{"x":8.95,"y":0.44},
{"x":9.05,"y":-0.72},{"x":9.25,"y":-0.06},{"x":9.5,"y":0.32},{"x":9.75,"y":-0.54},{"x":9.95,"y":-0.24},
{"x":10.05,"y":0.1},{"x":10.25,"y":-0.96},{"x":10.5,"y":-0.26},{"x":10.75,"y":0.22},{"x":10.95,"y":-0.5},
{"x":11.05,"y":-0.4},{"x":11.25,"y":0.36},{"x":11.5,"y":-0.76},{"x":11.75,"y":-0.08},{"x":11.95,"y":-1.0},
{"x":12.05,"y":0.3},{"x":12.25,"y":-0.56},{"x":12.5,"y":0.06},{"x":12.75,"y":-0.86},{"x":12.95,"y":-0.2},
{"x":13.05,"y":-0.62},{"x":13.25,"y":-0.02},{"x":13.5,"y":-0.94},{"x":13.75,"y":-0.34},{"x":13.95,"y":0.24},
{"x":14.05,"y":0.12},{"x":14.25,"y":-0.48},{"x":14.5,"y":-0.14},{"x":14.75,"y":-0.9},{"x":14.95,"y":0.4},
{"x":15.05,"y":-0.7},{"x":15.25,"y":-0.1},{"x":15.5,"y":0.34},{"x":15.75,"y":-0.56},{"x":15.95,"y":-0.28},
{"x":16.05,"y":0.08},{"x":16.25,"y":-0.98},{"x":16.5,"y":-0.22},{"x":16.75,"y":0.26},{"x":16.95,"y":-0.52},
{"x":17.05,"y":-0.44},{"x":17.25,"y":0.32},{"x":17.5,"y":-0.8},{"x":17.75,"y":-0.04},{"x":17.95,"y":-0.96},
{"x":18.05,"y":0.28},{"x":18.25,"y":-0.58},{"x":18.5,"y":0.04},{"x":18.75,"y":-0.84},{"x":18.95,"y":-0.18},
{"x":19.05,"y":-0.64},{"x":19.25,"y":0.0},{"x":19.5,"y":-0.92},{"x":19.75,"y":-0.36},{"x":19.95,"y":0.22},
{"x":20.05,"y":0.14},{"x":20.25,"y":-0.46},{"x":20.5,"y":-0.12},{"x":20.75,"y":-0.88},{"x":20.95,"y":0.38},
{"x":21.05,"y":-0.74},{"x":21.25,"y":-0.08},{"x":21.5,"y":0.3},{"x":21.75,"y":-0.52},{"x":21.95,"y":-0.26},
{"x":22.05,"y":0.06},{"x":22.25,"y":-1.0},{"x":22.5,"y":-0.24},{"x":22.75,"y":0.24},{"x":22.95,"y":-0.54},
{"x":23.05,"y":-0.42},{"x":23.25,"y":0.34},{"x":23.5,"y":-0.78},{"x":23.75,"y":-0.06},{"x":23.95,"y":-0.94},
{"x":24.05,"y":0.26},{"x":24.25,"y":-0.6},{"x":24.5,"y":0.02},{"x":24.75,"y":-0.82},{"x":24.95,"y":-0.16},
{"x":25.05,"y":-0.66},{"x":25.25,"y":-0.04},{"x":25.5,"y":-0.9},{"x":25.75,"y":-0.38},{"x":25.95,"y":0.2},
{"x":26.05,"y":0.1},{"x":26.25,"y":-0.44},{"x":26.5,"y":-0.16},{"x":26.75,"y":-0.86},{"x":26.95,"y":0.36},
{"x":27.05,"y":-0.76},{"x":27.25,"y":-0.12},{"x":27.5,"y":0.28},{"x":27.75,"y":-0.5},{"x":27.95,"y":-0.3},
{"x":28.05,"y":0.04},{"x":28.25,"y":-0.98},{"x":28.5,"y":-0.26},{"x":28.75,"y":0.2},{"x":28.95,"y":-0.56},
{"x":29.05,"y":-0.4},{"x":29.25,"y":0.36},{"x":29.5,"y":-0.74},{"x":29.75,"y":-0.1},{"x":29.95,"y":-0.92},
{"x":30.05,"y":0.24},{"x":30.25,"y":-0.62},{"x":30.5,"y":0.0},{"x":30.75,"y":-0.8},{"x":30.95,"y":-0.14},
{"x":31.05,"y":-0.68},{"x":31.25,"y":-0.06},{"x":31.5,"y":-0.88},{"x":31.75,"y":-0.4},{"x":31.95,"y":0.18},
{"x":32.05,"y":0.12},{"x":32.25,"y":-0.42},{"x":32.5,"y":-0.18},{"x":32.75,"y":-0.84},{"x":32.95,"y":0.34},
{"x":33.05,"y":-0.78},{"x":33.25,"y":-0.14},{"x":33.5,"y":0.26},{"x":33.75,"y":-0.48},{"x":33.95,"y":-0.32},
{"x":34.05,"y":0.02},{"x":34.25,"y":-0.96},{"x":34.5,"y":-0.28},{"x":34.75,"y":0.18},{"x":34.95,"y":-0.58},
{"x":35.05,"y":-0.38},{"x":35.25,"y":0.38},{"x":35.5,"y":-0.72},{"x":35.75,"y":-0.12},{"x":35.95,"y":-0.9},
{"x":36.05,"y":0.22},{"x":36.25,"y":-0.64},{"x":36.5,"y":-0.02},{"x":36.75,"y":-0.78},{"x":36.95,"y":-0.12},
{"x":37.05,"y":-0.7},{"x":37.25,"y":-0.08},{"x":37.5,"y":-0.86},{"x":37.75,"y":-0.42},{"x":37.95,"y":0.16},
{"x":38.05,"y":0.14},{"x":38.25,"y":-0.4},{"x":38.5,"y":-0.2},{"x":38.75,"y":-0.82},{"x":38.95,"y":0.32},
{"x":39.05,"y":-0.8},{"x":39.25,"y":-0.16},{"x":39.5,"y":0.24},{"x":39.75,"y":-0.46},{"x":39.95,"y":-0.34},
{"x":40.05,"y":0.0},{"x":40.25,"y":-0.94},{"x":40.5,"y":-0.3},{"x":40.75,"y":0.16},{"x":40.95,"y":-0.6},
{"x":41.05,"y":-0.36},{"x":41.25,"y":0.4},{"x":41.5,"y":-0.7},{"x":41.75,"y":-0.14},{"x":41.95,"y":-0.88},
{"x":42.05,"y":0.2},{"x":42.25,"y":-0.66},{"x":42.5,"y":-0.04},{"x":42.75,"y":-0.76},{"x":42.95,"y":-0.1},
{"x":43.05,"y":-0.72},{"x":43.25,"y":-0.1},{"x":43.5,"y":-0.84},{"x":43.75,"y":-0.44},{"x":43.95,"y":0.14},
{"x":44.05,"y":0.16},{"x":44.25,"y":-0.38},{"x":44.5,"y":-0.22},{"x":44.75,"y":-0.8},{"x":44.95,"y":0.3},
{"x":45.05,"y":-0.82},{"x":45.25,"y":-0.18},{"x":45.5,"y":0.22},{"x":45.75,"y":-0.44},{"x":45.95,"y":-0.36},
{"x":46.05,"y":-0.02},{"x":46.25,"y":-0.92},{"x":46.5,"y":-0.32},{"x":46.75,"y":0.14},{"x":46.95,"y":-0.62},
{"x":47.05,"y":-0.34},{"x":47.25,"y":0.42},{"x":47.5,"y":-0.68},{"x":47.75,"y":-0.16},{"x":47.95,"y":-0.86},
{"x":48.05,"y":0.18},{"x":48.25,"y":-0.68},{"x":48.5,"y":-0.06},{"x":48.75,"y":-0.74},{"x":48.95,"y":-0.08},
{"x":49.05,"y":-0.74},{"x":49.25,"y":-0.12},{"x":49.5,"y":-0.82},{"x":49.75,"y":-0.46},{"x":49.95,"y":0.12},
{"x":50.05,"y":0.18},{"x":50.25,"y":-0.36},{"x":50.5,"y":-0.24},{"x":50.75,"y":-0.78},{"x":50.95,"y":0.28},
{"x":51.05,"y":-0.84},{"x":51.25,"y":-0.2},{"x":51.5,"y":0.2},{"x":51.75,"y":-0.42},{"x":51.95,"y":-0.38},
{"x":52.05,"y":-0.04},{"x":52.25,"y":-0.9},{"x":52.5,"y":-0.34},{"x":52.75,"y":0.12},{"x":52.95,"y":-0.64},
{"x":53.05,"y":-0.32},{"x":53.25,"y":0.44},{"x":53.5,"y":-0.66},{"x":53.75,"y":-0.18},{"x":53.95,"y":-0.84},
{"x":54.05,"y":0.16},{"x":54.25,"y":-0.7},{"x":54.5,"y":-0.08},{"x":54.75,"y":-0.72},{"x":54.95,"y":-0.06},
{"x":55.05,"y":-0.76},{"x":55.25,"y":-0.14},{"x":55.5,"y":-0.8},{"x":55.75,"y":-0.48},{"x":55.95,"y":0.1},
{"x":56.05,"y":0.3},{"x":56.3,"y":-0.82},{"x":56.7,"y":-0.12},{"x":56.95,"y":0.62},
{"x":57.05,"y":-0.5},{"x":57.3,"y":0.44},{"x":57.7,"y":-0.98},{"x":57.95,"y":-0.06},
{"x":58.05,"y":0.66},{"x":58.3,"y":-0.3},{"x":58.7,"y":0.2},{"x":58.95,"y":-0.74},
{"x":59.05,"y":-0.18},{"x":59.3,"y":0.54},{"x":59.7,"y":-1.02},{"x":59.95,"y":0.1},
{"x":60.05,"y":0.36},{"x":60.3,"y":-0.66},{"x":60.7,"y":-0.2},{"x":60.95,"y":0.72},
{"x":61.05,"y":-0.9},{"x":61.3,"y":0.06},{"x":61.7,"y":0.58},{"x":61.95,"y":-0.42},
{"x":62.05,"y":0.22},{"x":62.3,"y":-0.52},{"x":62.7,"y":0.76},{"x":62.95,"y":-0.08},
{"x":63.05,"y":-0.36},{"x":63.3,"y":0.48},{"x":63.7,"y":-0.94},{"x":63.95,"y":0.16},
{"x":64.05,"y":0.62},{"x":64.3,"y":-0.24},{"x":64.7,"y":0.04},{"x":64.95,"y":-0.84},
{"x":65.05,"y":-0.58},{"x":65.3,"y":0.3},{"x":65.7,"y":-0.08},{"x":65.95,"y":0.86},
{"x":66.05,"y":0.46},{"x":66.25,"y":-0.9},{"x":66.45,"y":0.12},{"x":66.65,"y":0.98},{"x":66.85,"y":-0.34},
{"x":67.05,"y":-0.62},{"x":67.25,"y":0.28},{"x":67.45,"y":1.12},{"x":67.65,"y":-0.14},{"x":67.85,"y":0.64},
{"x":68.05,"y":0.08},{"x":68.25,"y":-1.04},{"x":68.45,"y":0.56},{"x":68.65,"y":-0.4},{"x":68.85,"y":1.2},
{"x":69.05,"y":-0.78},{"x":69.25,"y":0.92},{"x":69.45,"y":0.22},{"x":69.65,"y":-0.22},{"x":69.85,"y":-1.12},
{"x":70.05,"y":0.7},{"x":70.25,"y":-0.5},{"x":70.45,"y":1.18},{"x":70.65,"y":0.02},{"x":70.85,"y":-0.92},
{"x":71.05,"y":-0.26},{"x":71.25,"y":0.48},{"x":71.45,"y":-1.06},{"x":71.65,"y":0.96},{"x":71.85,"y":-0.6},
{"x":72.05,"y":0.84},{"x":72.25,"y":-0.38},{"x":72.45,"y":0.3},{"x":72.65,"y":-0.86},{"x":72.85,"y":1.3},
{"x":73.05,"y":-0.56},{"x":73.25,"y":1.06},{"x":73.45,"y":-0.12},{"x":73.65,"y":0.54},{"x":73.85,"y":-1.2},
{"x":74.05,"y":0.24},{"x":74.25,"y":-0.92},{"x":74.45,"y":0.78},{"x":74.65,"y":-0.3},{"x":74.85,"y":1.44},
{"x":75.05,"y":-0.8},{"x":75.25,"y":0.4},{"x":75.45,"y":1.22},{"x":75.65,"y":-0.16},{"x":75.85,"y":-1.1},
{"x":76.05,"y":1.04},{"x":76.25,"y":-0.44},{"x":76.45,"y":0.14},{"x":76.65,"y":-1.18},{"x":76.85,"y":0.82},
{"x":77.05,"y":-0.24},{"x":77.25,"y":0.62},{"x":77.45,"y":-0.96},{"x":77.65,"y":1.34},{"x":77.85,"y":0.02},
{"x":78.05,"y":0.5},{"x":78.25,"y":-0.7},{"x":78.45,"y":1.1},{"x":78.65,"y":-0.06},{"x":78.85,"y":-1.28},
{"x":79.05,"y":-0.52},{"x":79.25,"y":0.96},{"x":79.45,"y":0.18},{"x":79.65,"y":-1.04},{"x":79.85,"y":1.5},
{"x":80.05,"y":0.3},{"x":80.25,"y":-1.2},{"x":80.45,"y":0.76},{"x":80.65,"y":-0.36},{"x":80.85,"y":1.16},
{"x":81.05,"y":-0.86},{"x":81.25,"y":0.52},{"x":81.45,"y":-0.14},{"x":81.65,"y":1.28},{"x":81.85,"y":-0.5},
{"x":82.05,"y":0.92},{"x":82.25,"y":-0.32},{"x":82.45,"y":0.08},{"x":82.65,"y":-1.14},{"x":82.85,"y":0.6},
{"x":83.05,"y":-0.2},{"x":83.25,"y":1.18},{"x":83.45,"y":-0.72},{"x":83.65,"y":0.34},{"x":83.85,"y":-1.0},
{"x":84.05,"y":0.58},{"x":84.25,"y":-0.58},{"x":84.45,"y":1.02},{"x":84.65,"y":-0.24},{"x":84.85,"y":-1.22},
{"x":85.05,"y":-0.44},{"x":85.25,"y":0.2},{"x":85.45,"y":-0.94},{"x":85.65,"y":0.86},{"x":85.85,"y":0.42},
{"x":86.05,"y":0.14},{"x":86.25,"y":-0.72},{"x":86.45,"y":0.66},{"x":86.65,"y":-0.3},{"x":86.85,"y":1.02},
{"x":87.05,"y":-0.54},{"x":87.25,"y":0.38},{"x":87.45,"y":-0.1},{"x":87.65,"y":0.8},{"x":87.85,"y":-0.86},
{"x":88.05,"y":0.2},{"x":88.25,"y":-0.4}
],
"s":[
{"x":-78.4,"y":3.5},{"x":-78.5,"y":3.1},{"x":-78.3,"y":2.7},{"x":-78.0,"y":3.3},{"x":-78.1,"y":2.9},
{"x":-77.7,"y":3.6},{"x":-77.8,"y":2.4},{"x":-77.6,"y":3.0},{"x":-77.3,"y":3.2},{"x":-77.4,"y":2.8},{"x":-77.2,"y":3.7},
{"x":-77.0,"y":2.5},{"x":-77.1,"y":3.4},{"x":-76.9,"y":2.1},{"x":-76.7,"y":3.0},{"x":-76.8,"y":3.6},{"x":-76.6,"y":2.3},{"x":-76.7,"y":2.7},
{"x":-76.4,"y":1.9},{"x":-76.5,"y":3.3},{"x":-76.3,"y":2.9},{"x":-76.4,"y":2.5},{"x":-76.1,"y":3.5},{"x":-76.2,"y":2.2},{"x":-76.0,"y":2.8},{"x":-76.1,"y":1.7},
{"x":-75.8,"y":3.1},{"x":-75.9,"y":2.6},{"x":-75.7,"y":3.6},{"x":-75.8,"y":2.0},{"x":-75.5,"y":1.5},{"x":-75.6,"y":2.9},{"x":-75.4,"y":3.3},{"x":-75.5,"y":2.4},
{"x":-75.2,"y":3.0},{"x":-75.3,"y":2.1},{"x":-75.1,"y":1.8},{"x":-75.2,"y":3.5},{"x":-75.3,"y":2.7},
{"x":-74.9,"y":2.5},{"x":-75.0,"y":3.2},{"x":-74.8,"y":1.3},{"x":-74.9,"y":2.9},
{"x":-74.6,"y":2.2},{"x":-74.7,"y":3.6},{"x":-74.5,"y":1.9},{"x":-74.6,"y":2.7},{"x":-74.7,"y":3.1},
{"x":-74.3,"y":1.6},{"x":-74.4,"y":2.4},{"x":-74.2,"y":3.0},{"x":-74.3,"y":2.0},{"x":-74.4,"y":1.1},
{"x":-74.0,"y":2.8},{"x":-74.1,"y":3.4},{"x":-73.9,"y":1.8},{"x":-74.0,"y":2.3},
{"x":-73.7,"y":1.4},{"x":-73.8,"y":2.6},{"x":-73.6,"y":3.1},{"x":-73.7,"y":2.0},{"x":-73.8,"y":0.9},
{"x":-73.4,"y":3.5},{"x":-73.5,"y":2.3},{"x":-73.3,"y":1.7},{"x":-73.4,"y":2.9},
{"x":-73.1,"y":1.2},{"x":-73.2,"y":2.1},{"x":-73.0,"y":2.7},{"x":-73.1,"y":3.2},{"x":-73.2,"y":1.6},
{"x":-72.8,"y":2.5},{"x":-72.9,"y":0.8},{"x":-72.7,"y":1.9},{"x":-72.8,"y":3.0},
{"x":-72.5,"y":1.4},{"x":-72.6,"y":2.2},{"x":-72.4,"y":3.6},{"x":-72.5,"y":1.0},{"x":-72.6,"y":2.7},
{"x":-72.2,"y":1.8},{"x":-72.1,"y":3.85},{"x":-72.3,"y":0.6},{"x":-72.2,"y":2.4},{"x":-72.1,"y":1.3},
{"x":-71.9,"y":2.0},{"x":-72.0,"y":1.1},{"x":-71.8,"y":2.9},{"x":-71.9,"y":1.6},
{"x":-71.6,"y":0.5},{"x":-71.7,"y":1.5},{"x":-71.5,"y":2.3},{"x":-71.6,"y":3.3},{"x":-71.7,"y":0.9},
{"x":-71.3,"y":1.9},{"x":-71.4,"y":1.2},{"x":-71.2,"y":2.6},{"x":-71.3,"y":0.7},
{"x":-71.0,"y":1.4},{"x":-70.8,"y":3.85},{"x":-71.1,"y":0.4},{"x":-70.9,"y":2.0},{"x":-71.0,"y":1.0},
{"x":-70.7,"y":1.7},{"x":-70.8,"y":0.8},{"x":-70.6,"y":2.4},{"x":-70.7,"y":1.2},
{"x":-70.4,"y":0.5},{"x":-70.5,"y":1.5},{"x":-70.3,"y":0.9},{"x":-70.4,"y":2.0},{"x":-70.5,"y":3.1},
{"x":-70.1,"y":1.1},{"x":-70.2,"y":0.3},{"x":-70.0,"y":1.8},{"x":-70.1,"y":0.7},
{"x":-69.8,"y":1.4},{"x":-69.9,"y":0.6},{"x":-69.7,"y":0.1},{"x":-69.8,"y":2.5},{"x":-69.9,"y":1.0},
{"x":-69.5,"y":0.9},{"x":-69.4,"y":3.4},{"x":-69.6,"y":0.4},{"x":-69.5,"y":1.6},
{"x":-69.2,"y":0.2},{"x":-69.3,"y":1.2},{"x":-69.1,"y":0.7},{"x":-69.2,"y":2.1},
{"x":-68.9,"y":0.5},{"x":-69.0,"y":1.5},{"x":-68.8,"y":0.0},{"x":-68.9,"y":0.9},
{"x":-68.6,"y":1.1},{"x":-68.7,"y":0.3},{"x":-68.5,"y":1.8},{"x":-68.6,"y":0.6},
{"x":-68.3,"y":0.1},{"x":-68.4,"y":0.8},{"x":-68.2,"y":1.3},{"x":-68.3,"y":-0.1},
{"x":-68.0,"y":0.4},{"x":-68.0,"y":1.87},{"x":-67.9,"y":0.0},{"x":-68.1,"y":0.9},
{"x":-67.7,"y":0.6},{"x":-67.8,"y":-0.2},{"x":-67.6,"y":1.2},{"x":-67.7,"y":0.2},
{"x":-67.4,"y":0.0},{"x":-67.3,"y":1.4},{"x":-67.5,"y":0.5},{"x":-67.4,"y":-0.3},
{"x":-67.1,"y":0.3},{"x":-67.2,"y":0.8},{"x":-67.0,"y":-0.1},{"x":-67.1,"y":1.0},
{"x":-66.8,"y":-0.4},{"x":-66.9,"y":0.4},{"x":-66.7,"y":0.1},{"x":-66.8,"y":0.7},
{"x":-75.4,"y":6.96},{"x":-70.9,"y":6.75},{"x":-72.7,"y":6.39},{"x":-73.6,"y":6.1},{"x":-77.1,"y":5.92},{"x":-72.5,"y":5.74},{"x":-75.7,"y":4.83},{"x":-74.6,"y":4.0},{"x":-76.7,"y":3.9},{"x":-71.1,"y":3.9},{"x":-61.9,"y":3.0},{"x":-76.9,"y":-2.09},{"x":-71.2,"y":-2.96},{"x":-76.9,"y":-3.8},{"x":-74.4,"y":-0.72},{"x":-71.4,"y":-0.69},{"x":-69.4,"y":-0.84},{"x":-78.2,"y":1.11},{"x":-76.6,"y":0.22},{"x":-74.2,"y":0.39},{"x":-72.7,"y":0.58},{"x":-71.5,"y":0.3},{"x":-77.8,"y":1.6},{"x":-75.9,"y":1.2},
{"x":-66.3,"y":0.28},{"x":-66.2,"y":0.08},{"x":-66.4,"y":-0.12},{"x":-66.3,"y":-0.32},{"x":-66.2,"y":-0.52},
{"x":-65.6,"y":0.35},{"x":-65.7,"y":0.12},{"x":-65.5,"y":-0.1},{"x":-65.6,"y":-0.3},{"x":-65.7,"y":-0.5},{"x":-65.5,"y":-0.68},
{"x":-64.9,"y":0.3},{"x":-64.8,"y":0.1},{"x":-65.0,"y":-0.13},{"x":-64.9,"y":-0.33},{"x":-64.8,"y":-0.55},{"x":-65.0,"y":-0.7},
{"x":-64.2,"y":0.38},{"x":-64.3,"y":0.15},{"x":-64.1,"y":-0.06},{"x":-64.2,"y":-0.27},{"x":-64.3,"y":-0.47},{"x":-64.1,"y":-0.66},
{"x":-63.5,"y":0.32},{"x":-63.4,"y":0.11},{"x":-63.6,"y":-0.09},{"x":-63.5,"y":-0.29},{"x":-63.4,"y":-0.5},{"x":-63.6,"y":-0.72},
{"x":-62.8,"y":0.27},{"x":-62.9,"y":0.06},{"x":-62.7,"y":-0.14},{"x":-62.8,"y":-0.35},{"x":-62.9,"y":-0.56},{"x":-62.7,"y":-0.74},
{"x":-62.1,"y":0.3},{"x":-62.0,"y":0.09},{"x":-62.2,"y":-0.11},{"x":-62.1,"y":-0.31},{"x":-62.0,"y":-0.52},{"x":-62.2,"y":-0.7},{"x":-62.1,"y":-0.92},
{"x":-61.4,"y":0.25},{"x":-61.5,"y":0.04},{"x":-61.3,"y":-0.17},{"x":-61.4,"y":-0.37},{"x":-61.5,"y":-0.58},{"x":-61.0,"y":-1.02},
{"x":-60.7,"y":0.29},{"x":-60.6,"y":0.08},{"x":-60.8,"y":-0.12},{"x":-60.7,"y":-0.33},{"x":-60.6,"y":-0.54},{"x":-60.8,"y":-0.7},
{"x":-60.0,"y":0.22},{"x":-60.1,"y":0.02},{"x":-59.9,"y":-0.18},{"x":-60.0,"y":-0.39},{"x":-60.1,"y":-0.6},
{"x":-59.3,"y":0.26},{"x":-59.2,"y":0.05},{"x":-59.4,"y":-0.15},{"x":-59.3,"y":-0.36},{"x":-59.2,"y":-0.57},
{"x":-58.6,"y":0.2},{"x":-58.7,"y":0.0},{"x":-58.5,"y":-0.2},{"x":-58.6,"y":-0.41},{"x":-58.7,"y":-0.62},{"x":-58.0,"y":-0.8},
{"x":-57.9,"y":0.24},{"x":-57.8,"y":0.03},{"x":-58.0,"y":-0.17},{"x":-57.9,"y":-0.38},{"x":-57.8,"y":-0.59},
{"x":-57.2,"y":0.19},{"x":-57.3,"y":-0.01},{"x":-57.1,"y":-0.22},{"x":-57.2,"y":-0.42},{"x":-57.3,"y":-0.63},
{"x":-56.5,"y":0.23},{"x":-56.4,"y":0.02},{"x":-56.6,"y":-0.18},{"x":-56.5,"y":-0.39},{"x":-56.4,"y":-0.6},
{"x":-55.8,"y":0.18},{"x":-55.9,"y":-0.02},{"x":-55.7,"y":-0.22},{"x":-55.8,"y":-0.43},{"x":-55.9,"y":-0.62},
{"x":-55.1,"y":0.22},{"x":-55.0,"y":0.01},{"x":-55.2,"y":-0.19},{"x":-55.1,"y":-0.4},{"x":-55.0,"y":-0.6},
{"x":-54.4,"y":0.17},{"x":-54.5,"y":-0.03},{"x":-54.3,"y":-0.23},{"x":-54.4,"y":-0.44},{"x":-54.5,"y":-0.63},
{"x":-53.7,"y":0.21},{"x":-53.6,"y":0.0},{"x":-53.8,"y":-0.2},{"x":-53.7,"y":-0.41},{"x":-53.6,"y":-0.61},{"x":-53.0,"y":0.4},
{"x":-53.0,"y":0.16},{"x":-53.1,"y":-0.04},{"x":-52.9,"y":-0.24},{"x":-53.0,"y":-0.45},{"x":-53.1,"y":-0.64},
{"x":-52.3,"y":0.2},{"x":-52.2,"y":-0.01},{"x":-52.4,"y":-0.21},{"x":-52.3,"y":-0.42},{"x":-52.2,"y":-0.62},
{"x":-51.6,"y":0.15},{"x":-51.7,"y":-0.05},{"x":-51.5,"y":-0.25},{"x":-51.6,"y":-0.46},{"x":-51.7,"y":-0.65},
{"x":-50.9,"y":0.19},{"x":-50.8,"y":-0.02},{"x":-51.0,"y":-0.22},{"x":-50.9,"y":-0.43},{"x":-50.8,"y":-0.6},
{"x":-50.2,"y":0.14},{"x":-50.3,"y":-0.06},{"x":-50.1,"y":-0.26},{"x":-50.2,"y":-0.47},
{"x":-49.6,"y":0.1},{"x":-49.5,"y":-0.12},{"x":-49.7,"y":-0.33},{"x":-49.6,"y":-0.5},
{"x":-47.5,"y":0.33},{"x":-46.0,"y":0.37},{"x":-44.9,"y":0.3},{"x":-43.6,"y":0.25},
{"x":-47.3,"y":0.12},{"x":-46.2,"y":0.16},{"x":-44.7,"y":0.11},{"x":-43.4,"y":0.18},
{"x":-47.6,"y":-0.06},{"x":-45.9,"y":-0.03},{"x":-44.8,"y":-0.08},{"x":-43.5,"y":-0.02},
{"x":-47.2,"y":-0.27},{"x":-46.1,"y":-0.23},{"x":-45.0,"y":-0.26},{"x":-43.7,"y":-0.21},
{"x":-47.4,"y":-0.44},{"x":-46.3,"y":-0.47},{"x":-44.6,"y":-0.42},{"x":-43.3,"y":-0.48},
{"x":-46.6,"y":-0.62},{"x":-45.2,"y":-0.58},{"x":-45.5,"y":0.45},{"x":-48.0,"y":-0.2},
{"x":-40.4,"y":0.58},{"x":-39.1,"y":0.64},{"x":-37.6,"y":0.71},{"x":-36.5,"y":0.55},
{"x":-40.2,"y":0.41},{"x":-38.9,"y":0.37},{"x":-37.8,"y":0.43},{"x":-36.3,"y":0.38},
{"x":-40.5,"y":0.19},{"x":-39.0,"y":0.22},{"x":-37.7,"y":0.17},{"x":-36.4,"y":0.21},
{"x":-40.3,"y":-0.02},{"x":-38.8,"y":0.01},{"x":-37.5,"y":-0.03},{"x":-36.6,"y":0.02},
{"x":-40.1,"y":-0.21},{"x":-39.2,"y":-0.18},{"x":-37.9,"y":-0.22},{"x":-36.2,"y":-0.19},
{"x":-40.4,"y":-0.39},{"x":-39.0,"y":-0.42},{"x":-37.6,"y":-0.38},{"x":-36.5,"y":-0.41},
{"x":-40.0,"y":-0.61},{"x":-38.7,"y":-0.58},{"x":-37.4,"y":-0.63},{"x":-36.7,"y":-0.57},
{"x":-39.3,"y":-0.8},{"x":-37.9,"y":-0.83},{"x":-38.5,"y":-0.98},
{"x":-33.1,"y":0.44},{"x":-31.6,"y":0.49},{"x":-30.5,"y":0.42},{"x":-29.2,"y":0.46},
{"x":-32.9,"y":0.24},{"x":-31.8,"y":0.27},{"x":-30.3,"y":0.22},{"x":-29.0,"y":0.26},
{"x":-33.2,"y":0.06},{"x":-31.7,"y":0.03},{"x":-30.4,"y":0.07},{"x":-29.1,"y":0.04},
{"x":-32.8,"y":-0.16},{"x":-31.5,"y":-0.13},{"x":-30.6,"y":-0.17},{"x":-29.3,"y":-0.12},
{"x":-33.0,"y":-0.34},{"x":-31.9,"y":-0.37},{"x":-30.2,"y":-0.33},{"x":-29.0,"y":-0.36},
{"x":-32.7,"y":-0.54},{"x":-31.6,"y":-0.56},{"x":-30.5,"y":-0.53},{"x":-29.4,"y":-0.57},
{"x":-31.2,"y":-0.72},{"x":-30.0,"y":-0.7},
{"x":-26.0,"y":0.5},{"x":-24.5,"y":0.56},{"x":-23.4,"y":0.47},{"x":-22.1,"y":0.52},
{"x":-25.8,"y":0.31},{"x":-24.7,"y":0.28},{"x":-23.2,"y":0.33},{"x":-21.9,"y":0.29},
{"x":-26.1,"y":0.09},{"x":-24.6,"y":0.12},{"x":-23.3,"y":0.08},{"x":-22.0,"y":0.11},
{"x":-25.7,"y":-0.13},{"x":-24.4,"y":-0.1},{"x":-23.5,"y":-0.14},{"x":-22.2,"y":-0.11},
{"x":-25.9,"y":-0.32},{"x":-24.8,"y":-0.35},{"x":-23.1,"y":-0.31},{"x":-21.8,"y":-0.34},
{"x":-25.6,"y":-0.54},{"x":-24.5,"y":-0.52},{"x":-23.4,"y":-0.56},{"x":-22.3,"y":-0.53},
{"x":-25.2,"y":-0.74},{"x":-23.9,"y":-0.77},{"x":-22.6,"y":-0.72},{"x":-24.2,"y":-1.1},{"x":-25.1,"y":0.68},
{"x":-18.5,"y":0.6},{"x":-17.0,"y":0.65},{"x":-15.9,"y":0.58},{"x":-14.6,"y":0.55},
{"x":-18.3,"y":0.4},{"x":-17.2,"y":0.43},{"x":-15.7,"y":0.38},{"x":-14.4,"y":0.41},
{"x":-18.6,"y":0.19},{"x":-17.1,"y":0.21},{"x":-15.8,"y":0.17},{"x":-14.5,"y":0.2},
{"x":-18.2,"y":-0.01},{"x":-16.9,"y":0.02},{"x":-16.0,"y":-0.02},{"x":-14.7,"y":0.01},
{"x":-18.4,"y":-0.21},{"x":-17.3,"y":-0.19},{"x":-15.6,"y":-0.22},{"x":-14.3,"y":-0.18},
{"x":-18.1,"y":-0.41},{"x":-17.0,"y":-0.39},{"x":-15.9,"y":-0.42},{"x":-14.6,"y":-0.4},
{"x":-18.3,"y":-0.6},{"x":-17.2,"y":-0.63},{"x":-15.7,"y":-0.59},{"x":-14.8,"y":-0.62},
{"x":-17.6,"y":-0.8},{"x":-16.3,"y":-0.84},{"x":-15.1,"y":-0.79},{"x":-16.0,"y":-0.95},
{"x":-11.1,"y":0.55},{"x":-9.6,"y":0.58},{"x":-8.5,"y":0.52},{"x":-7.2,"y":0.49},
{"x":-10.9,"y":0.35},{"x":-9.8,"y":0.32},{"x":-8.3,"y":0.36},{"x":-7.0,"y":0.3},
{"x":-11.2,"y":0.14},{"x":-9.7,"y":0.11},{"x":-8.4,"y":0.15},{"x":-7.1,"y":0.12},
{"x":-10.8,"y":-0.07},{"x":-9.5,"y":-0.04},{"x":-8.6,"y":-0.08},{"x":-7.3,"y":-0.05},
{"x":-11.0,"y":-0.27},{"x":-9.9,"y":-0.25},{"x":-8.2,"y":-0.28},{"x":-6.9,"y":-0.24},
{"x":-10.7,"y":-0.47},{"x":-9.6,"y":-0.45},{"x":-8.5,"y":-0.48},{"x":-7.4,"y":-0.44},
{"x":-10.2,"y":-0.64},{"x":-8.9,"y":-0.66},{"x":-7.7,"y":-0.62},
{"x":-3.7,"y":0.6},{"x":-2.2,"y":0.64},{"x":-1.1,"y":0.57},{"x":0.2,"y":0.55},
{"x":-3.5,"y":0.4},{"x":-2.4,"y":0.37},{"x":-0.9,"y":0.41},{"x":0.4,"y":0.35},
{"x":-3.8,"y":0.18},{"x":-2.3,"y":0.21},{"x":-1.0,"y":0.16},{"x":0.3,"y":0.19},
{"x":-3.4,"y":-0.03},{"x":-2.1,"y":0.0},{"x":-1.2,"y":-0.04},{"x":0.1,"y":-0.01},
{"x":-3.6,"y":-0.24},{"x":-2.5,"y":-0.21},{"x":-0.8,"y":-0.25},{"x":0.5,"y":-0.22},
{"x":-3.3,"y":-0.45},{"x":-2.2,"y":-0.43},{"x":-1.1,"y":-0.46},{"x":0.2,"y":-0.42},
{"x":-2.9,"y":-0.66},{"x":-1.6,"y":-0.69},{"x":-0.4,"y":-0.64},{"x":-2.0,"y":0.82},
{"x":3.6,"y":0.44},{"x":5.1,"y":0.5},{"x":6.2,"y":0.41},{"x":7.5,"y":0.38},
{"x":3.8,"y":0.24},{"x":4.9,"y":0.27},{"x":6.4,"y":0.22},{"x":7.7,"y":0.2},
{"x":3.5,"y":0.03},{"x":5.0,"y":0.06},{"x":6.3,"y":0.02},{"x":7.6,"y":0.05},
{"x":3.9,"y":-0.17},{"x":5.2,"y":-0.14},{"x":6.1,"y":-0.18},{"x":7.4,"y":-0.15},
{"x":3.7,"y":-0.36},{"x":4.8,"y":-0.33},{"x":6.5,"y":-0.37},{"x":7.8,"y":-0.34},
{"x":4.0,"y":-0.56},{"x":5.1,"y":-0.54},{"x":6.2,"y":-0.57},{"x":7.3,"y":-0.53},
{"x":4.5,"y":-0.76},{"x":5.8,"y":-0.79},{"x":7.0,"y":-0.74},{"x":5.4,"y":0.62},
{"x":10.9,"y":0.42},{"x":12.4,"y":0.46},{"x":13.5,"y":0.4},{"x":14.8,"y":0.36},
{"x":11.1,"y":0.22},{"x":12.2,"y":0.25},{"x":13.7,"y":0.2},{"x":15.0,"y":0.23},
{"x":10.8,"y":0.01},{"x":12.3,"y":0.04},{"x":13.6,"y":0.0},{"x":14.9,"y":0.03},
{"x":11.2,"y":-0.19},{"x":12.5,"y":-0.16},{"x":13.4,"y":-0.2},{"x":14.7,"y":-0.17},
{"x":11.0,"y":-0.39},{"x":12.1,"y":-0.36},{"x":13.8,"y":-0.4},{"x":15.1,"y":-0.37},
{"x":11.3,"y":-0.58},{"x":12.4,"y":-0.61},{"x":13.5,"y":-0.57},{"x":14.6,"y":-0.6},
{"x":11.8,"y":-0.8},{"x":13.1,"y":-0.83},{"x":14.3,"y":-0.78},{"x":13.3,"y":-1.0},
{"x":18.3,"y":0.5},{"x":19.8,"y":0.55},{"x":20.9,"y":0.6},{"x":22.2,"y":0.47},
{"x":18.5,"y":0.3},{"x":19.6,"y":0.33},{"x":21.1,"y":0.28},{"x":22.4,"y":0.31},
{"x":18.2,"y":0.09},{"x":19.7,"y":0.12},{"x":21.0,"y":0.08},{"x":22.3,"y":0.11},
{"x":18.6,"y":-0.12},{"x":19.9,"y":-0.09},{"x":20.8,"y":-0.13},{"x":22.1,"y":-0.1},
{"x":18.4,"y":-0.32},{"x":19.5,"y":-0.29},{"x":21.2,"y":-0.33},{"x":22.5,"y":-0.3},
{"x":18.7,"y":-0.52},{"x":19.8,"y":-0.5},{"x":20.9,"y":-0.54},{"x":22.0,"y":-0.51},
{"x":19.2,"y":-0.72},{"x":20.5,"y":-0.75},{"x":21.7,"y":-0.7},{"x":19.9,"y":-0.95},
{"x":25.6,"y":0.5},{"x":27.1,"y":0.58},{"x":28.2,"y":0.62},{"x":29.5,"y":0.48},
{"x":25.8,"y":0.3},{"x":26.9,"y":0.33},{"x":28.4,"y":0.29},{"x":29.7,"y":0.27},
{"x":25.5,"y":0.08},{"x":27.0,"y":0.11},{"x":28.3,"y":0.07},{"x":29.6,"y":0.1},
{"x":25.9,"y":-0.13},{"x":27.2,"y":-0.1},{"x":28.1,"y":-0.14},{"x":29.4,"y":-0.11},
{"x":25.7,"y":-0.33},{"x":26.8,"y":-0.3},{"x":28.5,"y":-0.34},{"x":29.8,"y":-0.31},
{"x":26.0,"y":-0.53},{"x":27.1,"y":-0.51},{"x":28.2,"y":-0.55},{"x":29.3,"y":-0.52},
{"x":26.5,"y":-0.73},{"x":27.8,"y":-0.76},{"x":29.0,"y":-0.71},
{"x":32.9,"y":0.47},{"x":34.4,"y":0.52},{"x":35.5,"y":0.45},{"x":36.8,"y":0.42},
{"x":33.1,"y":0.27},{"x":34.2,"y":0.3},{"x":35.7,"y":0.25},{"x":37.0,"y":0.28},
{"x":32.8,"y":0.06},{"x":34.3,"y":0.09},{"x":35.6,"y":0.05},{"x":36.9,"y":0.08},
{"x":33.2,"y":-0.15},{"x":34.5,"y":-0.12},{"x":35.4,"y":-0.16},{"x":36.7,"y":-0.13},
{"x":33.0,"y":-0.35},{"x":34.1,"y":-0.32},{"x":35.8,"y":-0.36},{"x":37.1,"y":-0.33},
{"x":33.3,"y":-0.55},{"x":34.4,"y":-0.53},{"x":35.5,"y":-0.56},{"x":36.6,"y":-0.54},
{"x":33.8,"y":-0.74},{"x":35.1,"y":-0.77},{"x":36.3,"y":-0.72},
{"x":40.3,"y":0.5},{"x":41.8,"y":0.55},{"x":42.9,"y":0.62},{"x":44.2,"y":0.46},
{"x":40.5,"y":0.3},{"x":41.6,"y":0.32},{"x":43.1,"y":0.28},{"x":44.4,"y":0.3},
{"x":40.2,"y":0.09},{"x":41.7,"y":0.12},{"x":43.0,"y":0.08},{"x":44.3,"y":0.1},
{"x":40.6,"y":-0.12},{"x":41.9,"y":-0.09},{"x":42.8,"y":-0.13},{"x":44.1,"y":-0.1},
{"x":40.4,"y":-0.32},{"x":41.5,"y":-0.3},{"x":43.2,"y":-0.34},{"x":44.5,"y":-0.31},
{"x":40.7,"y":-0.52},{"x":41.8,"y":-0.5},{"x":42.9,"y":-0.54},{"x":44.0,"y":-0.51},
{"x":41.2,"y":-0.72},{"x":42.5,"y":-0.75},{"x":43.7,"y":-0.7},
{"x":47.4,"y":0.2},{"x":48.9,"y":0.25},{"x":50.0,"y":0.22},{"x":51.3,"y":0.15},
{"x":47.6,"y":0.01},{"x":48.7,"y":0.04},{"x":50.2,"y":0.0},{"x":51.5,"y":0.03},
{"x":47.3,"y":-0.19},{"x":48.8,"y":-0.16},{"x":50.1,"y":-0.2},{"x":51.4,"y":-0.17},
{"x":47.7,"y":-0.39},{"x":49.0,"y":-0.36},{"x":49.9,"y":-0.4},{"x":51.2,"y":-0.37},
{"x":47.5,"y":-0.58},{"x":48.6,"y":-0.6},{"x":50.3,"y":-0.57},{"x":51.6,"y":-0.59},
{"x":48.2,"y":-0.72},{"x":49.5,"y":-0.75},{"x":50.7,"y":-0.7},
{"x":54.7,"y":0.44},{"x":56.2,"y":0.5},{"x":57.3,"y":0.46},{"x":58.6,"y":0.4},
{"x":54.9,"y":0.24},{"x":56.0,"y":0.27},{"x":57.5,"y":0.23},{"x":58.8,"y":0.26},
{"x":54.6,"y":0.03},{"x":56.1,"y":0.06},{"x":57.4,"y":0.02},{"x":58.7,"y":0.05},
{"x":55.0,"y":-0.17},{"x":56.3,"y":-0.14},{"x":57.2,"y":-0.18},{"x":58.5,"y":-0.15},
{"x":54.8,"y":-0.37},{"x":55.9,"y":-0.34},{"x":57.6,"y":-0.38},{"x":58.9,"y":-0.35},
{"x":55.1,"y":-0.57},{"x":56.2,"y":-0.55},{"x":57.3,"y":-0.58},{"x":58.4,"y":-0.56},
{"x":55.6,"y":-0.74},{"x":56.9,"y":-0.77},{"x":58.1,"y":-0.72},{"x":57.3,"y":-1.08},
{"x":61.5,"y":0.48},{"x":63.0,"y":0.55},{"x":64.1,"y":0.5},{"x":65.4,"y":0.44},
{"x":61.7,"y":0.28},{"x":62.8,"y":0.31},{"x":64.3,"y":0.27},{"x":65.6,"y":0.29},
{"x":61.4,"y":0.07},{"x":62.9,"y":0.1},{"x":64.2,"y":0.06},{"x":65.5,"y":0.09},
{"x":61.8,"y":-0.14},{"x":63.1,"y":-0.11},{"x":64.0,"y":-0.15},{"x":65.3,"y":-0.12},
{"x":61.6,"y":-0.34},{"x":62.7,"y":-0.31},{"x":64.4,"y":-0.35},{"x":65.7,"y":-0.32},
{"x":61.9,"y":-0.54},{"x":63.0,"y":-0.52},{"x":64.1,"y":-0.55},{"x":65.2,"y":-0.53},
{"x":62.4,"y":-0.74},{"x":63.7,"y":-0.77},{"x":64.9,"y":-0.72},{"x":64.8,"y":-1.13},
{"x":67.2,"y":0.38},{"x":67.1,"y":0.17},{"x":67.3,"y":-0.03},{"x":67.2,"y":-0.22},{"x":67.1,"y":-0.41},{"x":67.3,"y":-0.58},
{"x":68.5,"y":0.42},{"x":68.6,"y":0.21},{"x":68.4,"y":0.0},{"x":68.5,"y":-0.2},{"x":68.6,"y":-0.39},{"x":68.4,"y":-0.6},
{"x":69.9,"y":0.36},{"x":69.8,"y":0.16},{"x":70.0,"y":-0.05},{"x":69.9,"y":-0.24},{"x":69.8,"y":-0.43},{"x":70.0,"y":-0.62},
{"x":71.2,"y":0.45},{"x":71.3,"y":0.23},{"x":71.1,"y":0.02},{"x":71.2,"y":-0.18},{"x":71.3,"y":-0.37},{"x":71.1,"y":-0.57},{"x":71.2,"y":-0.75},
{"x":72.5,"y":0.5},{"x":72.4,"y":0.28},{"x":72.6,"y":0.07},{"x":72.5,"y":-0.15},{"x":72.4,"y":-0.35},{"x":72.6,"y":-0.56},{"x":72.5,"y":-0.77},
{"x":73.9,"y":0.95},{"x":73.8,"y":0.72},{"x":74.0,"y":0.5},{"x":73.9,"y":0.27},{"x":73.8,"y":0.05},{"x":74.0,"y":-0.16},{"x":73.9,"y":-0.38},{"x":73.8,"y":-0.6},{"x":74.0,"y":-0.8},
{"x":75.2,"y":1.0},{"x":75.3,"y":0.78},{"x":75.1,"y":0.55},{"x":75.2,"y":0.3},{"x":75.3,"y":0.08},{"x":75.1,"y":-0.13},{"x":75.2,"y":-0.35},{"x":75.3,"y":-0.57},{"x":75.1,"y":-0.79},
{"x":76.6,"y":0.7},{"x":76.5,"y":0.48},{"x":76.7,"y":0.26},{"x":76.6,"y":0.04},{"x":76.5,"y":-0.17},{"x":76.7,"y":-0.39},{"x":76.6,"y":-0.61},{"x":76.5,"y":-0.82},
{"x":77.9,"y":0.62},{"x":78.0,"y":0.4},{"x":77.8,"y":0.18},{"x":77.9,"y":-0.03},{"x":78.0,"y":-0.24},{"x":77.8,"y":-0.45},{"x":77.9,"y":-0.66},{"x":78.0,"y":-0.86},
{"x":79.2,"y":0.55},{"x":79.1,"y":0.33},{"x":79.3,"y":0.11},{"x":79.2,"y":-0.1},{"x":79.1,"y":-0.31},{"x":79.3,"y":-0.52},{"x":79.2,"y":-0.73},
{"x":80.6,"y":0.5},{"x":80.7,"y":0.28},{"x":80.5,"y":0.06},{"x":80.6,"y":-0.15},{"x":80.7,"y":-0.36},{"x":80.5,"y":-0.57},{"x":80.6,"y":-0.78},
{"x":81.9,"y":0.46},{"x":81.8,"y":0.25},{"x":82.0,"y":0.03},{"x":81.9,"y":-0.18},{"x":81.8,"y":-0.39},{"x":82.0,"y":-0.6},{"x":81.9,"y":-0.8},
{"x":83.2,"y":0.38},{"x":83.3,"y":0.17},{"x":83.1,"y":-0.04},{"x":83.2,"y":-0.25},{"x":83.3,"y":-0.46},{"x":83.1,"y":-0.67},
{"x":84.5,"y":0.3},{"x":84.4,"y":0.1},{"x":84.6,"y":-0.12},{"x":84.5,"y":-0.33},{"x":84.4,"y":-0.54},
{"x":68.6,"y":1.7},{"x":73.8,"y":1.8},{"x":74.3,"y":1.65},{"x":75.9,"y":1.49},{"x":76.4,"y":1.3},{"x":75.0,"y":1.25},{"x":67.3,"y":-1.44},{"x":67.4,"y":-1.6},{"x":73.4,"y":-1.54},{"x":76.2,"y":-1.52},{"x":76.2,"y":-1.88},{"x":78.2,"y":-1.35},{"x":80.9,"y":-1.54},{"x":72.9,"y":-1.13},{"x":68.4,"y":-3.28},{"x":79.0,"y":-1.1},{"x":81.8,"y":-1.05},{"x":70.5,"y":-0.95},{"x":77.2,"y":-1.05},{"x":83.5,"y":-0.95},{"x":74.8,"y":-1.0},{"x":71.0,"y":0.75},{"x":79.5,"y":0.85},{"x":82.6,"y":0.7}
]
},
"layer":[
{"data":{"values":[{}]},"mark":{"type":"rule","color":"black","strokeWidth":1.5},"encoding":{"y":{"datum":0,"type":"quantitative","scale":{"domain":[-5.2,7.15],"nice":false,"zero":false},"axis":{"values":[-4,-2,0,2,4,6],"labelExpr":"'' + datum.value","labelPadding":17,"grid":true,"title":"OClO Slant Column [10¹⁴ molec cm⁻²]","titlePadding":8}}}},
{"data":{"values":[{}]},"mark":{"type":"rule","color":"black","strokeWidth":1.5},"encoding":{"x":{"datum":0,"type":"quantitative","scale":{"domain":[-93.5,90.3],"nice":false,"zero":false},"axis":null}}},
{"data":{"name":"g"},"mark":{"type":"point","filled":true,"size":22,"opacity":1,"clip":true},
"encoding":{
"x":{"field":"x","type":"quantitative","scale":{"domain":[-93.5,90.3],"nice":false,"zero":false},"axis":{"values":[-80,-60,-40,-20,0,20,40,60,80],"labelExpr":"'' + datum.value","labelPadding":15,"grid":true,"title":"Latitude [˚]","titlePadding":7}},
"y":{"field":"y","type":"quantitative","scale":{"domain":[-5.2,7.15],"nice":false,"zero":false},"axis":{"values":[-4,-2,0,2,4,6],"labelExpr":"'' + datum.value","labelPadding":17,"grid":true,"title":"OClO Slant Column [10¹⁴ molec cm⁻²]","titlePadding":8}},
"color":{"datum":"GOME-2","scale":{"domain":["GOME-2","SCIAMACHY"],"range":["#0000ff","#ff0000"]}},
"shape":{"datum":"GOME-2","scale":{"domain":["GOME-2","SCIAMACHY"],"range":["triangle-up","square"]}}
}},
{"data":{"name":"s"},"mark":{"type":"point","filled":true,"size":26,"opacity":1,"clip":true},
"encoding":{
"x":{"field":"x","type":"quantitative","scale":{"domain":[-93.5,90.3],"nice":false,"zero":false},"axis":{"orient":"top","values":[-80,-60,-40,-20,0,20,40,60,80],"labels":false,"grid":false,"title":null,"minExtent":0,"maxExtent":0}},
"y":{"field":"y","type":"quantitative","scale":{"domain":[-5.2,7.15],"nice":false,"zero":false},"axis":{"values":[-4,-2,0,2,4,6],"labelExpr":"'' + datum.value","labelPadding":17,"grid":true,"title":"OClO Slant Column [10¹⁴ molec cm⁻²]","titlePadding":8}},
"color":{"datum":"SCIAMACHY"},
"shape":{"datum":"SCIAMACHY"}
}}
],
"resolve":{"axis":{"x":"independent"}}
}
